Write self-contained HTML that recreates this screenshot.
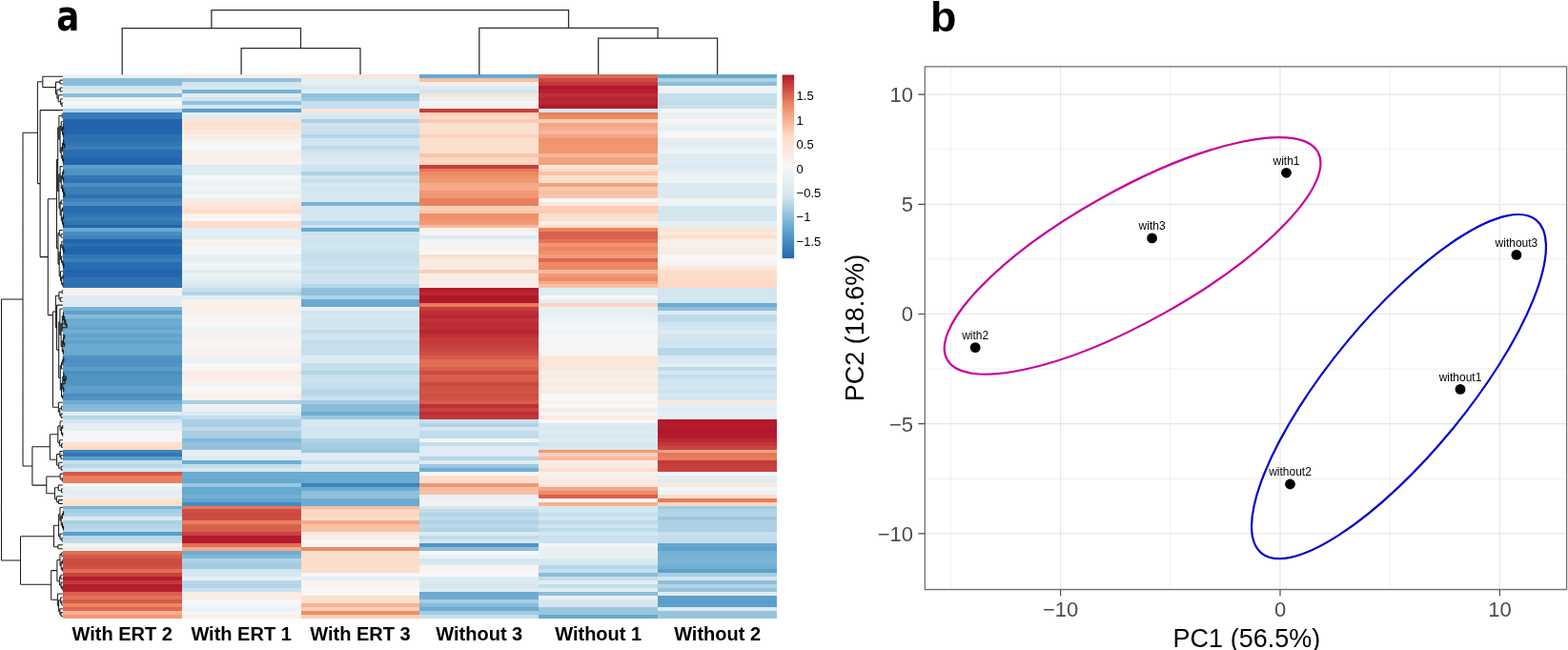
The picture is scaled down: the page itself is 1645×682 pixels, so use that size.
<!DOCTYPE html>
<html><head><meta charset="utf-8"><title>Heatmap and PCA</title>
<style>html,body{margin:0;padding:0;background:#fff;}body{width:1645px;height:682px;overflow:hidden;}svg{display:block;}</style>
</head><body>
<svg width="1645" height="682" viewBox="0 0 1645 682">
<g shape-rendering="crispEdges">
<rect x="65.80" y="78.20" width="125.47" height="4.53" fill="#eaf1f5"/>
<rect x="65.80" y="82.13" width="125.47" height="8.47" fill="#8abdda"/>
<rect x="65.80" y="90.00" width="125.47" height="4.53" fill="#d1e5f0"/>
<rect x="65.80" y="93.93" width="125.47" height="4.53" fill="#deebf2"/>
<rect x="65.80" y="97.87" width="125.47" height="4.53" fill="#8abdda"/>
<rect x="65.80" y="101.80" width="125.47" height="4.53" fill="#eaf1f5"/>
<rect x="65.80" y="105.73" width="125.47" height="4.53" fill="#f7f7f7"/>
<rect x="65.80" y="109.66" width="125.47" height="4.53" fill="#eaf1f5"/>
<rect x="65.80" y="113.60" width="125.47" height="4.53" fill="#aed1e5"/>
<rect x="65.80" y="117.53" width="125.47" height="8.47" fill="#387cb8"/>
<rect x="65.80" y="125.40" width="125.47" height="16.33" fill="#2166ac"/>
<rect x="65.80" y="141.13" width="125.47" height="8.47" fill="#2d71b2"/>
<rect x="65.80" y="149.00" width="125.47" height="4.53" fill="#3176b4"/>
<rect x="65.80" y="152.93" width="125.47" height="4.53" fill="#3b7fb9"/>
<rect x="65.80" y="156.86" width="125.47" height="8.47" fill="#286db0"/>
<rect x="65.80" y="164.73" width="125.47" height="8.47" fill="#2166ac"/>
<rect x="65.80" y="172.59" width="125.47" height="4.53" fill="#5ea0ca"/>
<rect x="65.80" y="176.53" width="125.47" height="8.47" fill="#5093c3"/>
<rect x="65.80" y="184.39" width="125.47" height="4.53" fill="#3478b5"/>
<rect x="65.80" y="188.33" width="125.47" height="4.53" fill="#2f73b3"/>
<rect x="65.80" y="192.26" width="125.47" height="4.53" fill="#4b8ec1"/>
<rect x="65.80" y="196.19" width="125.47" height="8.47" fill="#3b7fb9"/>
<rect x="65.80" y="204.06" width="125.47" height="4.53" fill="#2d71b2"/>
<rect x="65.80" y="207.99" width="125.47" height="4.53" fill="#3f83bb"/>
<rect x="65.80" y="211.93" width="125.47" height="4.53" fill="#4b8ec1"/>
<rect x="65.80" y="215.86" width="125.47" height="8.47" fill="#286db0"/>
<rect x="65.80" y="223.72" width="125.47" height="4.53" fill="#3176b4"/>
<rect x="65.80" y="227.66" width="125.47" height="4.53" fill="#387cb8"/>
<rect x="65.80" y="231.59" width="125.47" height="4.53" fill="#3176b4"/>
<rect x="65.80" y="235.52" width="125.47" height="4.53" fill="#2166ac"/>
<rect x="65.80" y="239.46" width="125.47" height="4.53" fill="#67a9cf"/>
<rect x="65.80" y="243.39" width="125.47" height="4.53" fill="#4b8ec1"/>
<rect x="65.80" y="247.32" width="125.47" height="4.53" fill="#3f83bb"/>
<rect x="65.80" y="251.26" width="125.47" height="4.53" fill="#2166ac"/>
<rect x="65.80" y="255.19" width="125.47" height="4.53" fill="#2a6fb1"/>
<rect x="65.80" y="259.12" width="125.47" height="8.47" fill="#2166ac"/>
<rect x="65.80" y="266.99" width="125.47" height="4.53" fill="#3176b4"/>
<rect x="65.80" y="270.92" width="125.47" height="4.53" fill="#3b7fb9"/>
<rect x="65.80" y="274.86" width="125.47" height="8.47" fill="#286db0"/>
<rect x="65.80" y="282.72" width="125.47" height="4.53" fill="#2166ac"/>
<rect x="65.80" y="286.65" width="125.47" height="4.53" fill="#2368ad"/>
<rect x="65.80" y="290.59" width="125.47" height="12.40" fill="#2d71b2"/>
<rect x="65.80" y="302.39" width="125.47" height="4.53" fill="#f8f0ec"/>
<rect x="65.80" y="306.32" width="125.47" height="4.53" fill="#f8f2ef"/>
<rect x="65.80" y="310.25" width="125.47" height="4.53" fill="#deebf2"/>
<rect x="65.80" y="314.19" width="125.47" height="4.53" fill="#dfecf3"/>
<rect x="65.80" y="318.12" width="125.47" height="4.53" fill="#deebf2"/>
<rect x="65.80" y="322.05" width="125.47" height="4.53" fill="#79b3d4"/>
<rect x="65.80" y="325.99" width="125.47" height="4.53" fill="#5ea0ca"/>
<rect x="65.80" y="329.92" width="125.47" height="4.53" fill="#87bbd9"/>
<rect x="65.80" y="333.85" width="125.47" height="4.53" fill="#6babd0"/>
<rect x="65.80" y="337.78" width="125.47" height="4.53" fill="#6eadd1"/>
<rect x="65.80" y="341.72" width="125.47" height="4.53" fill="#62a5cd"/>
<rect x="65.80" y="345.65" width="125.47" height="4.53" fill="#72afd2"/>
<rect x="65.80" y="349.58" width="125.47" height="4.53" fill="#60a2cc"/>
<rect x="65.80" y="353.52" width="125.47" height="4.53" fill="#6babd0"/>
<rect x="65.80" y="357.45" width="125.47" height="4.53" fill="#60a2cc"/>
<rect x="65.80" y="361.38" width="125.47" height="8.47" fill="#6babd0"/>
<rect x="65.80" y="369.25" width="125.47" height="4.53" fill="#67a9cf"/>
<rect x="65.80" y="373.18" width="125.47" height="4.53" fill="#5093c3"/>
<rect x="65.80" y="377.12" width="125.47" height="4.53" fill="#4b8ec1"/>
<rect x="65.80" y="381.05" width="125.47" height="4.53" fill="#5093c3"/>
<rect x="65.80" y="384.98" width="125.47" height="4.53" fill="#5b9ec9"/>
<rect x="65.80" y="388.92" width="125.47" height="4.53" fill="#4b8ec1"/>
<rect x="65.80" y="392.85" width="125.47" height="4.53" fill="#5295c4"/>
<rect x="65.80" y="396.78" width="125.47" height="4.53" fill="#5093c3"/>
<rect x="65.80" y="400.71" width="125.47" height="4.53" fill="#5295c4"/>
<rect x="65.80" y="404.65" width="125.47" height="4.53" fill="#5ea0ca"/>
<rect x="65.80" y="408.58" width="125.47" height="4.53" fill="#5b9ec9"/>
<rect x="65.80" y="412.51" width="125.47" height="4.53" fill="#4b8ec1"/>
<rect x="65.80" y="416.45" width="125.47" height="4.53" fill="#5093c3"/>
<rect x="65.80" y="420.38" width="125.47" height="4.53" fill="#6eadd1"/>
<rect x="65.80" y="424.31" width="125.47" height="4.53" fill="#83b9d8"/>
<rect x="65.80" y="428.25" width="125.47" height="4.53" fill="#8abdda"/>
<rect x="65.80" y="432.18" width="125.47" height="4.53" fill="#e3edf3"/>
<rect x="65.80" y="436.11" width="125.47" height="4.53" fill="#b5d5e7"/>
<rect x="65.80" y="440.05" width="125.47" height="4.53" fill="#d5e7f1"/>
<rect x="65.80" y="443.98" width="125.47" height="8.47" fill="#e5eff4"/>
<rect x="65.80" y="451.84" width="125.47" height="4.53" fill="#f4f6f7"/>
<rect x="65.80" y="455.78" width="125.47" height="4.53" fill="#f6f6f7"/>
<rect x="65.80" y="459.71" width="125.47" height="4.53" fill="#f3f5f6"/>
<rect x="65.80" y="463.64" width="125.47" height="4.53" fill="#fce0cf"/>
<rect x="65.80" y="467.58" width="125.47" height="4.53" fill="#fddcc9"/>
<rect x="65.80" y="471.51" width="125.47" height="4.53" fill="#3f83bb"/>
<rect x="65.80" y="475.44" width="125.47" height="4.53" fill="#3478b5"/>
<rect x="65.80" y="479.38" width="125.47" height="4.53" fill="#5b9ec9"/>
<rect x="65.80" y="483.31" width="125.47" height="4.53" fill="#c6dfed"/>
<rect x="65.80" y="487.24" width="125.47" height="4.53" fill="#b8d7e8"/>
<rect x="65.80" y="491.18" width="125.47" height="4.53" fill="#d4e6f0"/>
<rect x="65.80" y="495.11" width="125.47" height="4.53" fill="#d5594a"/>
<rect x="65.80" y="499.04" width="125.47" height="8.47" fill="#e97f5c"/>
<rect x="65.80" y="506.91" width="125.47" height="4.53" fill="#f6f6f7"/>
<rect x="65.80" y="510.84" width="125.47" height="4.53" fill="#e9f0f4"/>
<rect x="65.80" y="514.77" width="125.47" height="4.53" fill="#e3edf3"/>
<rect x="65.80" y="518.71" width="125.47" height="4.53" fill="#e7eff4"/>
<rect x="65.80" y="522.64" width="125.47" height="4.53" fill="#fce2d2"/>
<rect x="65.80" y="526.57" width="125.47" height="4.53" fill="#fcdfcd"/>
<rect x="65.80" y="530.51" width="125.47" height="4.53" fill="#79b3d4"/>
<rect x="65.80" y="534.44" width="125.47" height="4.53" fill="#a7cde3"/>
<rect x="65.80" y="538.37" width="125.47" height="4.53" fill="#b1d3e6"/>
<rect x="65.80" y="542.31" width="125.47" height="4.53" fill="#dbeaf2"/>
<rect x="65.80" y="546.24" width="125.47" height="4.53" fill="#aacfe4"/>
<rect x="65.80" y="550.17" width="125.47" height="4.53" fill="#b5d5e7"/>
<rect x="65.80" y="554.11" width="125.47" height="4.53" fill="#bcd9e9"/>
<rect x="65.80" y="558.04" width="125.47" height="4.53" fill="#5b9ec9"/>
<rect x="65.80" y="561.97" width="125.47" height="4.53" fill="#b8d7e8"/>
<rect x="65.80" y="565.90" width="125.47" height="4.53" fill="#bfdbea"/>
<rect x="65.80" y="569.84" width="125.47" height="4.53" fill="#f8f2ef"/>
<rect x="65.80" y="573.77" width="125.47" height="4.53" fill="#e4eef4"/>
<rect x="65.80" y="577.70" width="125.47" height="4.53" fill="#e16f55"/>
<rect x="65.80" y="581.64" width="125.47" height="4.53" fill="#d5594a"/>
<rect x="65.80" y="585.57" width="125.47" height="4.53" fill="#ce4d45"/>
<rect x="65.80" y="589.50" width="125.47" height="4.53" fill="#cc4943"/>
<rect x="65.80" y="593.44" width="125.47" height="4.53" fill="#d05146"/>
<rect x="65.80" y="597.37" width="125.47" height="4.53" fill="#e16f55"/>
<rect x="65.80" y="601.30" width="125.47" height="4.53" fill="#c8423f"/>
<rect x="65.80" y="605.24" width="125.47" height="4.53" fill="#b41c2d"/>
<rect x="65.80" y="609.17" width="125.47" height="4.53" fill="#c43a3b"/>
<rect x="65.80" y="613.10" width="125.47" height="4.53" fill="#b41c2d"/>
<rect x="65.80" y="617.04" width="125.47" height="4.53" fill="#b6202f"/>
<rect x="65.80" y="620.97" width="125.47" height="4.53" fill="#d9604e"/>
<rect x="65.80" y="624.90" width="125.47" height="4.53" fill="#e37357"/>
<rect x="65.80" y="628.83" width="125.47" height="4.53" fill="#d5594a"/>
<rect x="65.80" y="632.77" width="125.47" height="4.53" fill="#ed8660"/>
<rect x="65.80" y="636.70" width="125.47" height="4.53" fill="#dd6852"/>
<rect x="65.80" y="640.63" width="125.47" height="4.53" fill="#f6b091"/>
<rect x="65.80" y="644.57" width="125.47" height="3.93" fill="#f29a76"/>
<rect x="190.67" y="78.20" width="125.47" height="4.53" fill="#f9eee7"/>
<rect x="190.67" y="82.13" width="125.47" height="4.53" fill="#91c1dc"/>
<rect x="190.67" y="86.07" width="125.47" height="4.53" fill="#d1e5f0"/>
<rect x="190.67" y="90.00" width="125.47" height="4.53" fill="#d7e8f1"/>
<rect x="190.67" y="93.93" width="125.47" height="4.53" fill="#79b3d4"/>
<rect x="190.67" y="97.87" width="125.47" height="4.53" fill="#deebf2"/>
<rect x="190.67" y="101.80" width="125.47" height="4.53" fill="#d1e5f0"/>
<rect x="190.67" y="105.73" width="125.47" height="4.53" fill="#91c1dc"/>
<rect x="190.67" y="109.66" width="125.47" height="4.53" fill="#d1e5f0"/>
<rect x="190.67" y="113.60" width="125.47" height="4.53" fill="#5b9ec9"/>
<rect x="190.67" y="117.53" width="125.47" height="4.53" fill="#e4eef4"/>
<rect x="190.67" y="121.46" width="125.47" height="4.53" fill="#deebf2"/>
<rect x="190.67" y="125.40" width="125.47" height="4.53" fill="#fbe4d7"/>
<rect x="190.67" y="129.33" width="125.47" height="4.53" fill="#fce0cf"/>
<rect x="190.67" y="133.26" width="125.47" height="4.53" fill="#fbe4d7"/>
<rect x="190.67" y="137.20" width="125.47" height="4.53" fill="#fae9df"/>
<rect x="190.67" y="141.13" width="125.47" height="4.53" fill="#f9eee7"/>
<rect x="190.67" y="145.06" width="125.47" height="4.53" fill="#f8f0ec"/>
<rect x="190.67" y="149.00" width="125.47" height="8.47" fill="#f7f7f7"/>
<rect x="190.67" y="156.86" width="125.47" height="4.53" fill="#f8f0ec"/>
<rect x="190.67" y="160.80" width="125.47" height="4.53" fill="#f9eee7"/>
<rect x="190.67" y="164.73" width="125.47" height="4.53" fill="#f8f0ec"/>
<rect x="190.67" y="168.66" width="125.47" height="4.53" fill="#f8f2ef"/>
<rect x="190.67" y="172.59" width="125.47" height="12.40" fill="#deebf2"/>
<rect x="190.67" y="184.39" width="125.47" height="4.53" fill="#f7f7f7"/>
<rect x="190.67" y="188.33" width="125.47" height="4.53" fill="#f1f4f6"/>
<rect x="190.67" y="192.26" width="125.47" height="4.53" fill="#eaf1f5"/>
<rect x="190.67" y="196.19" width="125.47" height="4.53" fill="#f1f4f6"/>
<rect x="190.67" y="200.13" width="125.47" height="4.53" fill="#e8f0f4"/>
<rect x="190.67" y="204.06" width="125.47" height="4.53" fill="#f3f5f6"/>
<rect x="190.67" y="207.99" width="125.47" height="4.53" fill="#faebe2"/>
<rect x="190.67" y="211.93" width="125.47" height="4.53" fill="#fae9df"/>
<rect x="190.67" y="215.86" width="125.47" height="4.53" fill="#fbe4d7"/>
<rect x="190.67" y="219.79" width="125.47" height="4.53" fill="#fddbc7"/>
<rect x="190.67" y="223.72" width="125.47" height="4.53" fill="#f8f1ed"/>
<rect x="190.67" y="227.66" width="125.47" height="4.53" fill="#f7f7f7"/>
<rect x="190.67" y="231.59" width="125.47" height="8.47" fill="#fcdecc"/>
<rect x="190.67" y="239.46" width="125.47" height="4.53" fill="#e3edf3"/>
<rect x="190.67" y="243.39" width="125.47" height="4.53" fill="#e5eff4"/>
<rect x="190.67" y="247.32" width="125.47" height="4.53" fill="#e1edf3"/>
<rect x="190.67" y="251.26" width="125.47" height="4.53" fill="#f8f1ed"/>
<rect x="190.67" y="255.19" width="125.47" height="4.53" fill="#f8f0ec"/>
<rect x="190.67" y="259.12" width="125.47" height="8.47" fill="#f4f6f7"/>
<rect x="190.67" y="266.99" width="125.47" height="4.53" fill="#e9f0f4"/>
<rect x="190.67" y="270.92" width="125.47" height="4.53" fill="#e5eff4"/>
<rect x="190.67" y="274.86" width="125.47" height="4.53" fill="#f2f5f6"/>
<rect x="190.67" y="278.79" width="125.47" height="4.53" fill="#f1f4f6"/>
<rect x="190.67" y="282.72" width="125.47" height="4.53" fill="#dfecf3"/>
<rect x="190.67" y="286.65" width="125.47" height="4.53" fill="#edf2f5"/>
<rect x="190.67" y="290.59" width="125.47" height="4.53" fill="#e7eff4"/>
<rect x="190.67" y="294.52" width="125.47" height="4.53" fill="#deebf2"/>
<rect x="190.67" y="298.45" width="125.47" height="4.53" fill="#d7e8f1"/>
<rect x="190.67" y="302.39" width="125.47" height="4.53" fill="#c6dfed"/>
<rect x="190.67" y="306.32" width="125.47" height="4.53" fill="#b1d3e6"/>
<rect x="190.67" y="310.25" width="125.47" height="4.53" fill="#e1edf3"/>
<rect x="190.67" y="314.19" width="125.47" height="4.53" fill="#f8f1ed"/>
<rect x="190.67" y="318.12" width="125.47" height="4.53" fill="#f9f0ea"/>
<rect x="190.67" y="322.05" width="125.47" height="4.53" fill="#f9efe9"/>
<rect x="190.67" y="325.99" width="125.47" height="4.53" fill="#f8f0ec"/>
<rect x="190.67" y="329.92" width="125.47" height="4.53" fill="#f8f2ef"/>
<rect x="190.67" y="333.85" width="125.47" height="4.53" fill="#f7f6f5"/>
<rect x="190.67" y="337.78" width="125.47" height="4.53" fill="#f7f7f7"/>
<rect x="190.67" y="341.72" width="125.47" height="4.53" fill="#f2f5f6"/>
<rect x="190.67" y="345.65" width="125.47" height="4.53" fill="#eff3f6"/>
<rect x="190.67" y="349.58" width="125.47" height="4.53" fill="#f8f1ed"/>
<rect x="190.67" y="353.52" width="125.47" height="4.53" fill="#f8f2ef"/>
<rect x="190.67" y="357.45" width="125.47" height="8.47" fill="#f8f4f2"/>
<rect x="190.67" y="365.32" width="125.47" height="4.53" fill="#f9efe9"/>
<rect x="190.67" y="369.25" width="125.47" height="4.53" fill="#f9f0ea"/>
<rect x="190.67" y="373.18" width="125.47" height="4.53" fill="#ecf2f5"/>
<rect x="190.67" y="377.12" width="125.47" height="4.53" fill="#e9f0f4"/>
<rect x="190.67" y="381.05" width="125.47" height="4.53" fill="#f7f7f7"/>
<rect x="190.67" y="384.98" width="125.47" height="4.53" fill="#f7f5f4"/>
<rect x="190.67" y="388.92" width="125.47" height="4.53" fill="#faeae1"/>
<rect x="190.67" y="392.85" width="125.47" height="4.53" fill="#f9eee7"/>
<rect x="190.67" y="396.78" width="125.47" height="4.53" fill="#f9efe9"/>
<rect x="190.67" y="400.71" width="125.47" height="4.53" fill="#f8f1ed"/>
<rect x="190.67" y="404.65" width="125.47" height="4.53" fill="#f7f7f7"/>
<rect x="190.67" y="408.58" width="125.47" height="4.53" fill="#f6f6f7"/>
<rect x="190.67" y="412.51" width="125.47" height="4.53" fill="#f9efe9"/>
<rect x="190.67" y="416.45" width="125.47" height="4.53" fill="#f8f0ec"/>
<rect x="190.67" y="420.38" width="125.47" height="4.53" fill="#a7cde3"/>
<rect x="190.67" y="424.31" width="125.47" height="4.53" fill="#edf2f5"/>
<rect x="190.67" y="428.25" width="125.47" height="4.53" fill="#e8f0f4"/>
<rect x="190.67" y="432.18" width="125.47" height="4.53" fill="#dbeaf2"/>
<rect x="190.67" y="436.11" width="125.47" height="4.53" fill="#c3ddec"/>
<rect x="190.67" y="440.05" width="125.47" height="8.47" fill="#aacfe4"/>
<rect x="190.67" y="447.91" width="125.47" height="4.53" fill="#bfdbea"/>
<rect x="190.67" y="451.84" width="125.47" height="4.53" fill="#aacfe4"/>
<rect x="190.67" y="455.78" width="125.47" height="4.53" fill="#a7cde3"/>
<rect x="190.67" y="459.71" width="125.47" height="4.53" fill="#83b9d8"/>
<rect x="190.67" y="463.64" width="125.47" height="4.53" fill="#95c3dd"/>
<rect x="190.67" y="467.58" width="125.47" height="4.53" fill="#91c1dc"/>
<rect x="190.67" y="471.51" width="125.47" height="4.53" fill="#e5eff4"/>
<rect x="190.67" y="475.44" width="125.47" height="4.53" fill="#e4eef4"/>
<rect x="190.67" y="479.38" width="125.47" height="4.53" fill="#dbeaf2"/>
<rect x="190.67" y="483.31" width="125.47" height="4.53" fill="#6eadd1"/>
<rect x="190.67" y="487.24" width="125.47" height="4.53" fill="#c3ddec"/>
<rect x="190.67" y="491.18" width="125.47" height="4.53" fill="#d5e7f1"/>
<rect x="190.67" y="495.11" width="125.47" height="8.47" fill="#6babd0"/>
<rect x="190.67" y="502.98" width="125.47" height="4.53" fill="#67a9cf"/>
<rect x="190.67" y="506.91" width="125.47" height="4.53" fill="#9cc7e0"/>
<rect x="190.67" y="510.84" width="125.47" height="8.47" fill="#67a9cf"/>
<rect x="190.67" y="518.71" width="125.47" height="4.53" fill="#72afd2"/>
<rect x="190.67" y="522.64" width="125.47" height="4.53" fill="#62a5cd"/>
<rect x="190.67" y="526.57" width="125.47" height="4.53" fill="#468abf"/>
<rect x="190.67" y="530.51" width="125.47" height="4.53" fill="#e57759"/>
<rect x="190.67" y="534.44" width="125.47" height="4.53" fill="#ce4d45"/>
<rect x="190.67" y="538.37" width="125.47" height="4.53" fill="#cc4943"/>
<rect x="190.67" y="542.31" width="125.47" height="4.53" fill="#ce4d45"/>
<rect x="190.67" y="546.24" width="125.47" height="4.53" fill="#e97f5c"/>
<rect x="190.67" y="550.17" width="125.47" height="8.47" fill="#d9604e"/>
<rect x="190.67" y="558.04" width="125.47" height="4.53" fill="#c8423f"/>
<rect x="190.67" y="561.97" width="125.47" height="8.47" fill="#b41c2d"/>
<rect x="190.67" y="569.84" width="125.47" height="4.53" fill="#e16f55"/>
<rect x="190.67" y="573.77" width="125.47" height="4.53" fill="#f5aa8a"/>
<rect x="190.67" y="577.70" width="125.47" height="4.53" fill="#6eadd1"/>
<rect x="190.67" y="581.64" width="125.47" height="4.53" fill="#80b7d7"/>
<rect x="190.67" y="585.57" width="125.47" height="4.53" fill="#b1d3e6"/>
<rect x="190.67" y="589.50" width="125.47" height="8.47" fill="#a3cbe2"/>
<rect x="190.67" y="597.37" width="125.47" height="4.53" fill="#d1e5f0"/>
<rect x="190.67" y="601.30" width="125.47" height="4.53" fill="#d5e7f1"/>
<rect x="190.67" y="605.24" width="125.47" height="4.53" fill="#e9f0f4"/>
<rect x="190.67" y="609.17" width="125.47" height="4.53" fill="#b8d7e8"/>
<rect x="190.67" y="613.10" width="125.47" height="4.53" fill="#b5d5e7"/>
<rect x="190.67" y="617.04" width="125.47" height="4.53" fill="#cae1ee"/>
<rect x="190.67" y="620.97" width="125.47" height="4.53" fill="#f9ece4"/>
<rect x="190.67" y="624.90" width="125.47" height="4.53" fill="#f9ede5"/>
<rect x="190.67" y="628.83" width="125.47" height="4.53" fill="#f7f7f7"/>
<rect x="190.67" y="632.77" width="125.47" height="4.53" fill="#f3f5f6"/>
<rect x="190.67" y="636.70" width="125.47" height="4.53" fill="#eaf1f5"/>
<rect x="190.67" y="640.63" width="125.47" height="4.53" fill="#f4f6f7"/>
<rect x="190.67" y="644.57" width="125.47" height="3.93" fill="#f9f0ea"/>
<rect x="315.53" y="78.20" width="125.47" height="4.53" fill="#fbe4d7"/>
<rect x="315.53" y="82.13" width="125.47" height="8.47" fill="#e4eef4"/>
<rect x="315.53" y="90.00" width="125.47" height="4.53" fill="#d4e6f0"/>
<rect x="315.53" y="93.93" width="125.47" height="4.53" fill="#e0ecf3"/>
<rect x="315.53" y="97.87" width="125.47" height="4.53" fill="#91c1dc"/>
<rect x="315.53" y="101.80" width="125.47" height="4.53" fill="#9cc7e0"/>
<rect x="315.53" y="105.73" width="125.47" height="8.47" fill="#c6dfed"/>
<rect x="315.53" y="113.60" width="125.47" height="4.53" fill="#fbe6da"/>
<rect x="315.53" y="117.53" width="125.47" height="4.53" fill="#deebf2"/>
<rect x="315.53" y="121.46" width="125.47" height="4.53" fill="#d7e8f1"/>
<rect x="315.53" y="125.40" width="125.47" height="4.53" fill="#aed1e5"/>
<rect x="315.53" y="129.33" width="125.47" height="4.53" fill="#d1e5f0"/>
<rect x="315.53" y="133.26" width="125.47" height="8.47" fill="#cae1ee"/>
<rect x="315.53" y="141.13" width="125.47" height="4.53" fill="#b5d5e7"/>
<rect x="315.53" y="145.06" width="125.47" height="8.47" fill="#d1e5f0"/>
<rect x="315.53" y="152.93" width="125.47" height="4.53" fill="#bfdbea"/>
<rect x="315.53" y="156.86" width="125.47" height="4.53" fill="#d1e5f0"/>
<rect x="315.53" y="160.80" width="125.47" height="4.53" fill="#d7e8f1"/>
<rect x="315.53" y="164.73" width="125.47" height="4.53" fill="#dae9f2"/>
<rect x="315.53" y="168.66" width="125.47" height="4.53" fill="#deebf2"/>
<rect x="315.53" y="172.59" width="125.47" height="8.47" fill="#d1e5f0"/>
<rect x="315.53" y="180.46" width="125.47" height="4.53" fill="#aed1e5"/>
<rect x="315.53" y="184.39" width="125.47" height="4.53" fill="#d1e5f0"/>
<rect x="315.53" y="188.33" width="125.47" height="4.53" fill="#c6dfed"/>
<rect x="315.53" y="192.26" width="125.47" height="4.53" fill="#d7e8f1"/>
<rect x="315.53" y="196.19" width="125.47" height="4.53" fill="#d1e5f0"/>
<rect x="315.53" y="200.13" width="125.47" height="4.53" fill="#d7e8f1"/>
<rect x="315.53" y="204.06" width="125.47" height="4.53" fill="#dae9f2"/>
<rect x="315.53" y="207.99" width="125.47" height="4.53" fill="#d7e8f1"/>
<rect x="315.53" y="211.93" width="125.47" height="4.53" fill="#79b3d4"/>
<rect x="315.53" y="215.86" width="125.47" height="4.53" fill="#d4e6f0"/>
<rect x="315.53" y="219.79" width="125.47" height="4.53" fill="#d1e5f0"/>
<rect x="315.53" y="223.72" width="125.47" height="8.47" fill="#d4e6f0"/>
<rect x="315.53" y="231.59" width="125.47" height="4.53" fill="#b1d3e6"/>
<rect x="315.53" y="235.52" width="125.47" height="4.53" fill="#d2e6f0"/>
<rect x="315.53" y="239.46" width="125.47" height="4.53" fill="#6babd0"/>
<rect x="315.53" y="243.39" width="125.47" height="4.53" fill="#cde3ef"/>
<rect x="315.53" y="247.32" width="125.47" height="4.53" fill="#d5e7f1"/>
<rect x="315.53" y="251.26" width="125.47" height="4.53" fill="#cde3ef"/>
<rect x="315.53" y="255.19" width="125.47" height="4.53" fill="#d1e5f0"/>
<rect x="315.53" y="259.12" width="125.47" height="4.53" fill="#d2e6f0"/>
<rect x="315.53" y="263.06" width="125.47" height="4.53" fill="#cae1ee"/>
<rect x="315.53" y="266.99" width="125.47" height="8.47" fill="#c6dfed"/>
<rect x="315.53" y="274.86" width="125.47" height="4.53" fill="#cae1ee"/>
<rect x="315.53" y="278.79" width="125.47" height="4.53" fill="#d1e5f0"/>
<rect x="315.53" y="282.72" width="125.47" height="4.53" fill="#c3ddec"/>
<rect x="315.53" y="286.65" width="125.47" height="12.40" fill="#cde3ef"/>
<rect x="315.53" y="298.45" width="125.47" height="4.53" fill="#b5d5e7"/>
<rect x="315.53" y="302.39" width="125.47" height="4.53" fill="#91c1dc"/>
<rect x="315.53" y="306.32" width="125.47" height="4.53" fill="#8ebfdb"/>
<rect x="315.53" y="310.25" width="125.47" height="4.53" fill="#b1d3e6"/>
<rect x="315.53" y="314.19" width="125.47" height="4.53" fill="#6babd0"/>
<rect x="315.53" y="318.12" width="125.47" height="4.53" fill="#67a9cf"/>
<rect x="315.53" y="322.05" width="125.47" height="4.53" fill="#e9f0f4"/>
<rect x="315.53" y="325.99" width="125.47" height="4.53" fill="#d1e5f0"/>
<rect x="315.53" y="329.92" width="125.47" height="4.53" fill="#d5e7f1"/>
<rect x="315.53" y="333.85" width="125.47" height="8.47" fill="#d1e5f0"/>
<rect x="315.53" y="341.72" width="125.47" height="4.53" fill="#d4e6f0"/>
<rect x="315.53" y="345.65" width="125.47" height="4.53" fill="#c3ddec"/>
<rect x="315.53" y="349.58" width="125.47" height="8.47" fill="#d1e5f0"/>
<rect x="315.53" y="357.45" width="125.47" height="4.53" fill="#c3ddec"/>
<rect x="315.53" y="361.38" width="125.47" height="12.40" fill="#c6dfed"/>
<rect x="315.53" y="373.18" width="125.47" height="8.47" fill="#deebf2"/>
<rect x="315.53" y="381.05" width="125.47" height="8.47" fill="#c6dfed"/>
<rect x="315.53" y="388.92" width="125.47" height="4.53" fill="#b5d5e7"/>
<rect x="315.53" y="392.85" width="125.47" height="4.53" fill="#cae1ee"/>
<rect x="315.53" y="396.78" width="125.47" height="4.53" fill="#cde3ef"/>
<rect x="315.53" y="400.71" width="125.47" height="8.47" fill="#c6dfed"/>
<rect x="315.53" y="408.58" width="125.47" height="4.53" fill="#b5d5e7"/>
<rect x="315.53" y="412.51" width="125.47" height="4.53" fill="#bfdbea"/>
<rect x="315.53" y="416.45" width="125.47" height="4.53" fill="#cae1ee"/>
<rect x="315.53" y="420.38" width="125.47" height="4.53" fill="#a3cbe2"/>
<rect x="315.53" y="424.31" width="125.47" height="8.47" fill="#8abdda"/>
<rect x="315.53" y="432.18" width="125.47" height="4.53" fill="#6eadd1"/>
<rect x="315.53" y="436.11" width="125.47" height="4.53" fill="#9cc7e0"/>
<rect x="315.53" y="440.05" width="125.47" height="4.53" fill="#d5e7f1"/>
<rect x="315.53" y="443.98" width="125.47" height="4.53" fill="#d6e7f1"/>
<rect x="315.53" y="447.91" width="125.47" height="4.53" fill="#d1e5f0"/>
<rect x="315.53" y="451.84" width="125.47" height="4.53" fill="#d4e6f0"/>
<rect x="315.53" y="455.78" width="125.47" height="4.53" fill="#d5e7f1"/>
<rect x="315.53" y="459.71" width="125.47" height="4.53" fill="#b1d3e6"/>
<rect x="315.53" y="463.64" width="125.47" height="4.53" fill="#a7cde3"/>
<rect x="315.53" y="467.58" width="125.47" height="4.53" fill="#a3cbe2"/>
<rect x="315.53" y="471.51" width="125.47" height="4.53" fill="#9cc7e0"/>
<rect x="315.53" y="475.44" width="125.47" height="4.53" fill="#deebf2"/>
<rect x="315.53" y="479.38" width="125.47" height="4.53" fill="#dfecf3"/>
<rect x="315.53" y="483.31" width="125.47" height="4.53" fill="#c6dfed"/>
<rect x="315.53" y="487.24" width="125.47" height="4.53" fill="#e3edf3"/>
<rect x="315.53" y="491.18" width="125.47" height="4.53" fill="#dfecf3"/>
<rect x="315.53" y="495.11" width="125.47" height="12.40" fill="#6babd0"/>
<rect x="315.53" y="506.91" width="125.47" height="4.53" fill="#3f83bb"/>
<rect x="315.53" y="510.84" width="125.47" height="4.53" fill="#6babd0"/>
<rect x="315.53" y="514.77" width="125.47" height="4.53" fill="#8ebfdb"/>
<rect x="315.53" y="518.71" width="125.47" height="4.53" fill="#91c1dc"/>
<rect x="315.53" y="522.64" width="125.47" height="8.47" fill="#6babd0"/>
<rect x="315.53" y="530.51" width="125.47" height="4.53" fill="#f8bda2"/>
<rect x="315.53" y="534.44" width="125.47" height="4.53" fill="#fdd8c4"/>
<rect x="315.53" y="538.37" width="125.47" height="4.53" fill="#fcd6c0"/>
<rect x="315.53" y="542.31" width="125.47" height="4.53" fill="#fddcc9"/>
<rect x="315.53" y="546.24" width="125.47" height="4.53" fill="#f5aa8a"/>
<rect x="315.53" y="550.17" width="125.47" height="4.53" fill="#f8c0a5"/>
<rect x="315.53" y="554.11" width="125.47" height="4.53" fill="#f9c3a9"/>
<rect x="315.53" y="558.04" width="125.47" height="4.53" fill="#fae9df"/>
<rect x="315.53" y="561.97" width="125.47" height="4.53" fill="#f9eee7"/>
<rect x="315.53" y="565.90" width="125.47" height="4.53" fill="#f7f6f5"/>
<rect x="315.53" y="569.84" width="125.47" height="4.53" fill="#f7f5f4"/>
<rect x="315.53" y="573.77" width="125.47" height="4.53" fill="#ef8d65"/>
<rect x="315.53" y="577.70" width="125.47" height="4.53" fill="#fdddca"/>
<rect x="315.53" y="581.64" width="125.47" height="8.47" fill="#fcdecc"/>
<rect x="315.53" y="589.50" width="125.47" height="4.53" fill="#fdddca"/>
<rect x="315.53" y="593.44" width="125.47" height="4.53" fill="#fcdecc"/>
<rect x="315.53" y="597.37" width="125.47" height="4.53" fill="#fdddca"/>
<rect x="315.53" y="601.30" width="125.47" height="4.53" fill="#f7f7f7"/>
<rect x="315.53" y="605.24" width="125.47" height="4.53" fill="#e4eef4"/>
<rect x="315.53" y="609.17" width="125.47" height="4.53" fill="#f8f4f2"/>
<rect x="315.53" y="613.10" width="125.47" height="4.53" fill="#f7f5f4"/>
<rect x="315.53" y="617.04" width="125.47" height="4.53" fill="#f7f7f7"/>
<rect x="315.53" y="620.97" width="125.47" height="4.53" fill="#f7f6f5"/>
<rect x="315.53" y="624.90" width="125.47" height="4.53" fill="#fcdecc"/>
<rect x="315.53" y="628.83" width="125.47" height="4.53" fill="#fce0cf"/>
<rect x="315.53" y="632.77" width="125.47" height="4.53" fill="#f6b294"/>
<rect x="315.53" y="636.70" width="125.47" height="4.53" fill="#fbd0ba"/>
<rect x="315.53" y="640.63" width="125.47" height="4.53" fill="#ef8d65"/>
<rect x="315.53" y="644.57" width="125.47" height="3.93" fill="#fbceb6"/>
<rect x="440.40" y="78.20" width="125.47" height="4.53" fill="#67a9cf"/>
<rect x="440.40" y="82.13" width="125.47" height="4.53" fill="#f8c0a5"/>
<rect x="440.40" y="86.07" width="125.47" height="4.53" fill="#f9eee7"/>
<rect x="440.40" y="90.00" width="125.47" height="4.53" fill="#deebf2"/>
<rect x="440.40" y="93.93" width="125.47" height="4.53" fill="#d1e5f0"/>
<rect x="440.40" y="97.87" width="125.47" height="4.53" fill="#fbe4d7"/>
<rect x="440.40" y="101.80" width="125.47" height="4.53" fill="#eaf1f5"/>
<rect x="440.40" y="105.73" width="125.47" height="4.53" fill="#f8f2ef"/>
<rect x="440.40" y="109.66" width="125.47" height="4.53" fill="#f1f4f6"/>
<rect x="440.40" y="113.60" width="125.47" height="4.53" fill="#c63e3d"/>
<rect x="440.40" y="117.53" width="125.47" height="4.53" fill="#fbceb6"/>
<rect x="440.40" y="121.46" width="125.47" height="4.53" fill="#fddbc7"/>
<rect x="440.40" y="125.40" width="125.47" height="4.53" fill="#fac8af"/>
<rect x="440.40" y="129.33" width="125.47" height="8.47" fill="#fce0cf"/>
<rect x="440.40" y="137.20" width="125.47" height="4.53" fill="#fcdecc"/>
<rect x="440.40" y="141.13" width="125.47" height="4.53" fill="#fcd3bd"/>
<rect x="440.40" y="145.06" width="125.47" height="4.53" fill="#fcdecc"/>
<rect x="440.40" y="149.00" width="125.47" height="4.53" fill="#fcdfcd"/>
<rect x="440.40" y="152.93" width="125.47" height="4.53" fill="#fce0cf"/>
<rect x="440.40" y="156.86" width="125.47" height="4.53" fill="#fcdecc"/>
<rect x="440.40" y="160.80" width="125.47" height="4.53" fill="#f9c5ac"/>
<rect x="440.40" y="164.73" width="125.47" height="8.47" fill="#fcd6c0"/>
<rect x="440.40" y="172.59" width="125.47" height="4.53" fill="#c63e3d"/>
<rect x="440.40" y="176.53" width="125.47" height="4.53" fill="#e57759"/>
<rect x="440.40" y="180.46" width="125.47" height="4.53" fill="#ef8a62"/>
<rect x="440.40" y="184.39" width="125.47" height="4.53" fill="#f0926c"/>
<rect x="440.40" y="188.33" width="125.47" height="4.53" fill="#f19773"/>
<rect x="440.40" y="192.26" width="125.47" height="8.47" fill="#f5aa8a"/>
<rect x="440.40" y="200.13" width="125.47" height="8.47" fill="#f19773"/>
<rect x="440.40" y="207.99" width="125.47" height="4.53" fill="#e97f5c"/>
<rect x="440.40" y="211.93" width="125.47" height="4.53" fill="#eb825e"/>
<rect x="440.40" y="215.86" width="125.47" height="4.53" fill="#fbd0ba"/>
<rect x="440.40" y="219.79" width="125.47" height="4.53" fill="#fac8af"/>
<rect x="440.40" y="223.72" width="125.47" height="4.53" fill="#f08f69"/>
<rect x="440.40" y="227.66" width="125.47" height="4.53" fill="#f1956f"/>
<rect x="440.40" y="231.59" width="125.47" height="4.53" fill="#f29a76"/>
<rect x="440.40" y="235.52" width="125.47" height="4.53" fill="#f7b89b"/>
<rect x="440.40" y="239.46" width="125.47" height="4.53" fill="#f9f0ea"/>
<rect x="440.40" y="243.39" width="125.47" height="4.53" fill="#f2f5f6"/>
<rect x="440.40" y="247.32" width="125.47" height="4.53" fill="#deebf2"/>
<rect x="440.40" y="251.26" width="125.47" height="4.53" fill="#f3f5f6"/>
<rect x="440.40" y="255.19" width="125.47" height="4.53" fill="#f8f2ef"/>
<rect x="440.40" y="259.12" width="125.47" height="4.53" fill="#f8f3f1"/>
<rect x="440.40" y="263.06" width="125.47" height="4.53" fill="#f7f7f7"/>
<rect x="440.40" y="266.99" width="125.47" height="4.53" fill="#fcdecc"/>
<rect x="440.40" y="270.92" width="125.47" height="4.53" fill="#faeae1"/>
<rect x="440.40" y="274.86" width="125.47" height="8.47" fill="#faebe2"/>
<rect x="440.40" y="282.72" width="125.47" height="4.53" fill="#fbceb6"/>
<rect x="440.40" y="286.65" width="125.47" height="4.53" fill="#f9efe9"/>
<rect x="440.40" y="290.59" width="125.47" height="4.53" fill="#faeae1"/>
<rect x="440.40" y="294.52" width="125.47" height="4.53" fill="#f9eee7"/>
<rect x="440.40" y="298.45" width="125.47" height="4.53" fill="#f9ece4"/>
<rect x="440.40" y="302.39" width="125.47" height="4.53" fill="#b41c2d"/>
<rect x="440.40" y="306.32" width="125.47" height="4.53" fill="#ba2732"/>
<rect x="440.40" y="310.25" width="125.47" height="8.47" fill="#b2182b"/>
<rect x="440.40" y="318.12" width="125.47" height="4.53" fill="#e77b5b"/>
<rect x="440.40" y="322.05" width="125.47" height="4.53" fill="#c43a3b"/>
<rect x="440.40" y="325.99" width="125.47" height="4.53" fill="#be2f36"/>
<rect x="440.40" y="329.92" width="125.47" height="4.53" fill="#ba2732"/>
<rect x="440.40" y="333.85" width="125.47" height="4.53" fill="#c03338"/>
<rect x="440.40" y="337.78" width="125.47" height="4.53" fill="#bc2b34"/>
<rect x="440.40" y="341.72" width="125.47" height="4.53" fill="#be2f36"/>
<rect x="440.40" y="345.65" width="125.47" height="4.53" fill="#b82331"/>
<rect x="440.40" y="349.58" width="125.47" height="4.53" fill="#be2f36"/>
<rect x="440.40" y="353.52" width="125.47" height="8.47" fill="#c43a3b"/>
<rect x="440.40" y="361.38" width="125.47" height="4.53" fill="#c63e3d"/>
<rect x="440.40" y="365.32" width="125.47" height="4.53" fill="#ca4641"/>
<rect x="440.40" y="369.25" width="125.47" height="4.53" fill="#ce4d45"/>
<rect x="440.40" y="373.18" width="125.47" height="4.53" fill="#d5594a"/>
<rect x="440.40" y="377.12" width="125.47" height="4.53" fill="#df6c53"/>
<rect x="440.40" y="381.05" width="125.47" height="4.53" fill="#e16f55"/>
<rect x="440.40" y="384.98" width="125.47" height="4.53" fill="#d9604e"/>
<rect x="440.40" y="388.92" width="125.47" height="4.53" fill="#ce4d45"/>
<rect x="440.40" y="392.85" width="125.47" height="4.53" fill="#d9604e"/>
<rect x="440.40" y="396.78" width="125.47" height="4.53" fill="#d75c4c"/>
<rect x="440.40" y="400.71" width="125.47" height="4.53" fill="#cc4943"/>
<rect x="440.40" y="404.65" width="125.47" height="4.53" fill="#d05146"/>
<rect x="440.40" y="408.58" width="125.47" height="4.53" fill="#d35548"/>
<rect x="440.40" y="412.51" width="125.47" height="4.53" fill="#ce4d45"/>
<rect x="440.40" y="416.45" width="125.47" height="4.53" fill="#d05146"/>
<rect x="440.40" y="420.38" width="125.47" height="4.53" fill="#d75c4c"/>
<rect x="440.40" y="424.31" width="125.47" height="4.53" fill="#be2f36"/>
<rect x="440.40" y="428.25" width="125.47" height="4.53" fill="#c8423f"/>
<rect x="440.40" y="432.18" width="125.47" height="4.53" fill="#be2f36"/>
<rect x="440.40" y="436.11" width="125.47" height="4.53" fill="#c2363a"/>
<rect x="440.40" y="440.05" width="125.47" height="4.53" fill="#c6dfed"/>
<rect x="440.40" y="443.98" width="125.47" height="4.53" fill="#b1d3e6"/>
<rect x="440.40" y="447.91" width="125.47" height="4.53" fill="#d6e7f1"/>
<rect x="440.40" y="451.84" width="125.47" height="4.53" fill="#c3ddec"/>
<rect x="440.40" y="455.78" width="125.47" height="4.53" fill="#bfdbea"/>
<rect x="440.40" y="459.71" width="125.47" height="4.53" fill="#f3f5f6"/>
<rect x="440.40" y="463.64" width="125.47" height="4.53" fill="#c3ddec"/>
<rect x="440.40" y="467.58" width="125.47" height="4.53" fill="#deebf2"/>
<rect x="440.40" y="471.51" width="125.47" height="4.53" fill="#dfecf3"/>
<rect x="440.40" y="475.44" width="125.47" height="4.53" fill="#e0ecf3"/>
<rect x="440.40" y="479.38" width="125.47" height="4.53" fill="#b5d5e7"/>
<rect x="440.40" y="483.31" width="125.47" height="4.53" fill="#e1edf3"/>
<rect x="440.40" y="487.24" width="125.47" height="4.53" fill="#9cc7e0"/>
<rect x="440.40" y="491.18" width="125.47" height="4.53" fill="#72afd2"/>
<rect x="440.40" y="495.11" width="125.47" height="4.53" fill="#f7f7f7"/>
<rect x="440.40" y="499.04" width="125.47" height="8.47" fill="#fcdecc"/>
<rect x="440.40" y="506.91" width="125.47" height="4.53" fill="#f19773"/>
<rect x="440.40" y="510.84" width="125.47" height="4.53" fill="#f8bda2"/>
<rect x="440.40" y="514.77" width="125.47" height="4.53" fill="#f8c0a5"/>
<rect x="440.40" y="518.71" width="125.47" height="4.53" fill="#e9f0f4"/>
<rect x="440.40" y="522.64" width="125.47" height="4.53" fill="#edf2f5"/>
<rect x="440.40" y="526.57" width="125.47" height="4.53" fill="#f8f2ef"/>
<rect x="440.40" y="530.51" width="125.47" height="4.53" fill="#d5e7f1"/>
<rect x="440.40" y="534.44" width="125.47" height="4.53" fill="#c3ddec"/>
<rect x="440.40" y="538.37" width="125.47" height="4.53" fill="#b1d3e6"/>
<rect x="440.40" y="542.31" width="125.47" height="4.53" fill="#bfdbea"/>
<rect x="440.40" y="546.24" width="125.47" height="4.53" fill="#b1d3e6"/>
<rect x="440.40" y="550.17" width="125.47" height="4.53" fill="#bcd9e9"/>
<rect x="440.40" y="554.11" width="125.47" height="4.53" fill="#b1d3e6"/>
<rect x="440.40" y="558.04" width="125.47" height="4.53" fill="#dbeaf2"/>
<rect x="440.40" y="561.97" width="125.47" height="4.53" fill="#bfdbea"/>
<rect x="440.40" y="565.90" width="125.47" height="4.53" fill="#d2e6f0"/>
<rect x="440.40" y="569.84" width="125.47" height="4.53" fill="#5093c3"/>
<rect x="440.40" y="573.77" width="125.47" height="4.53" fill="#8abdda"/>
<rect x="440.40" y="577.70" width="125.47" height="4.53" fill="#f7f7f7"/>
<rect x="440.40" y="581.64" width="125.47" height="4.53" fill="#eaf1f5"/>
<rect x="440.40" y="585.57" width="125.47" height="4.53" fill="#d4e6f0"/>
<rect x="440.40" y="589.50" width="125.47" height="4.53" fill="#dae9f2"/>
<rect x="440.40" y="593.44" width="125.47" height="4.53" fill="#f8f4f2"/>
<rect x="440.40" y="597.37" width="125.47" height="4.53" fill="#f8f3f1"/>
<rect x="440.40" y="601.30" width="125.47" height="4.53" fill="#f7f7f7"/>
<rect x="440.40" y="605.24" width="125.47" height="4.53" fill="#deebf2"/>
<rect x="440.40" y="609.17" width="125.47" height="4.53" fill="#dbeaf2"/>
<rect x="440.40" y="613.10" width="125.47" height="4.53" fill="#d6e7f1"/>
<rect x="440.40" y="617.04" width="125.47" height="4.53" fill="#deebf2"/>
<rect x="440.40" y="620.97" width="125.47" height="4.53" fill="#6babd0"/>
<rect x="440.40" y="624.90" width="125.47" height="4.53" fill="#6eadd1"/>
<rect x="440.40" y="628.83" width="125.47" height="4.53" fill="#a7cde3"/>
<rect x="440.40" y="632.77" width="125.47" height="4.53" fill="#87bbd9"/>
<rect x="440.40" y="636.70" width="125.47" height="4.53" fill="#6babd0"/>
<rect x="440.40" y="640.63" width="125.47" height="4.53" fill="#a3cbe2"/>
<rect x="440.40" y="644.57" width="125.47" height="3.93" fill="#c3ddec"/>
<rect x="565.27" y="78.20" width="125.47" height="4.53" fill="#df6c53"/>
<rect x="565.27" y="82.13" width="125.47" height="4.53" fill="#cc4943"/>
<rect x="565.27" y="86.07" width="125.47" height="4.53" fill="#c2363a"/>
<rect x="565.27" y="90.00" width="125.47" height="4.53" fill="#b2182b"/>
<rect x="565.27" y="93.93" width="125.47" height="4.53" fill="#b6202f"/>
<rect x="565.27" y="97.87" width="125.47" height="4.53" fill="#be2f36"/>
<rect x="565.27" y="101.80" width="125.47" height="4.53" fill="#b82331"/>
<rect x="565.27" y="105.73" width="125.47" height="4.53" fill="#ba2732"/>
<rect x="565.27" y="109.66" width="125.47" height="4.53" fill="#b2182b"/>
<rect x="565.27" y="113.60" width="125.47" height="4.53" fill="#d4e6f0"/>
<rect x="565.27" y="117.53" width="125.47" height="4.53" fill="#e97f5c"/>
<rect x="565.27" y="121.46" width="125.47" height="4.53" fill="#ef8a62"/>
<rect x="565.27" y="125.40" width="125.47" height="4.53" fill="#fbceb6"/>
<rect x="565.27" y="129.33" width="125.47" height="4.53" fill="#f4a584"/>
<rect x="565.27" y="133.26" width="125.47" height="4.53" fill="#f5ad8e"/>
<rect x="565.27" y="137.20" width="125.47" height="4.53" fill="#f7b89b"/>
<rect x="565.27" y="141.13" width="125.47" height="4.53" fill="#f4a584"/>
<rect x="565.27" y="145.06" width="125.47" height="4.53" fill="#f0926c"/>
<rect x="565.27" y="149.00" width="125.47" height="4.53" fill="#f1956f"/>
<rect x="565.27" y="152.93" width="125.47" height="4.53" fill="#f19773"/>
<rect x="565.27" y="156.86" width="125.47" height="4.53" fill="#f1956f"/>
<rect x="565.27" y="160.80" width="125.47" height="4.53" fill="#f6b598"/>
<rect x="565.27" y="164.73" width="125.47" height="4.53" fill="#f3a280"/>
<rect x="565.27" y="168.66" width="125.47" height="4.53" fill="#f3a07d"/>
<rect x="565.27" y="172.59" width="125.47" height="4.53" fill="#fbe6da"/>
<rect x="565.27" y="176.53" width="125.47" height="4.53" fill="#fcd6c0"/>
<rect x="565.27" y="180.46" width="125.47" height="4.53" fill="#f9c3a9"/>
<rect x="565.27" y="184.39" width="125.47" height="8.47" fill="#fcdecc"/>
<rect x="565.27" y="192.26" width="125.47" height="4.53" fill="#f3a280"/>
<rect x="565.27" y="196.19" width="125.47" height="4.53" fill="#fac8af"/>
<rect x="565.27" y="200.13" width="125.47" height="4.53" fill="#f8c0a5"/>
<rect x="565.27" y="204.06" width="125.47" height="4.53" fill="#f9c5ac"/>
<rect x="565.27" y="207.99" width="125.47" height="4.53" fill="#f7f7f7"/>
<rect x="565.27" y="211.93" width="125.47" height="4.53" fill="#fbe6da"/>
<rect x="565.27" y="215.86" width="125.47" height="4.53" fill="#fbceb6"/>
<rect x="565.27" y="219.79" width="125.47" height="4.53" fill="#facbb3"/>
<rect x="565.27" y="223.72" width="125.47" height="8.47" fill="#fcdecc"/>
<rect x="565.27" y="231.59" width="125.47" height="4.53" fill="#f9eee7"/>
<rect x="565.27" y="235.52" width="125.47" height="4.53" fill="#fce2d2"/>
<rect x="565.27" y="239.46" width="125.47" height="4.53" fill="#eb825e"/>
<rect x="565.27" y="243.39" width="125.47" height="8.47" fill="#d9604e"/>
<rect x="565.27" y="251.26" width="125.47" height="4.53" fill="#e37357"/>
<rect x="565.27" y="255.19" width="125.47" height="4.53" fill="#f1956f"/>
<rect x="565.27" y="259.12" width="125.47" height="4.53" fill="#ed8660"/>
<rect x="565.27" y="263.06" width="125.47" height="4.53" fill="#f08f69"/>
<rect x="565.27" y="266.99" width="125.47" height="4.53" fill="#f29d7a"/>
<rect x="565.27" y="270.92" width="125.47" height="4.53" fill="#dd6852"/>
<rect x="565.27" y="274.86" width="125.47" height="4.53" fill="#ef8a62"/>
<rect x="565.27" y="278.79" width="125.47" height="4.53" fill="#ed8660"/>
<rect x="565.27" y="282.72" width="125.47" height="4.53" fill="#f7b89b"/>
<rect x="565.27" y="286.65" width="125.47" height="4.53" fill="#f29a76"/>
<rect x="565.27" y="290.59" width="125.47" height="4.53" fill="#ef8a62"/>
<rect x="565.27" y="294.52" width="125.47" height="4.53" fill="#f5aa8a"/>
<rect x="565.27" y="298.45" width="125.47" height="4.53" fill="#f8c0a5"/>
<rect x="565.27" y="302.39" width="125.47" height="8.47" fill="#deebf2"/>
<rect x="565.27" y="310.25" width="125.47" height="4.53" fill="#f7f7f7"/>
<rect x="565.27" y="314.19" width="125.47" height="4.53" fill="#e4eef4"/>
<rect x="565.27" y="318.12" width="125.47" height="4.53" fill="#fcd6c0"/>
<rect x="565.27" y="322.05" width="125.47" height="4.53" fill="#e9f0f4"/>
<rect x="565.27" y="325.99" width="125.47" height="4.53" fill="#e7eff4"/>
<rect x="565.27" y="329.92" width="125.47" height="4.53" fill="#eaf1f5"/>
<rect x="565.27" y="333.85" width="125.47" height="4.53" fill="#eef3f5"/>
<rect x="565.27" y="337.78" width="125.47" height="8.47" fill="#f3f5f6"/>
<rect x="565.27" y="345.65" width="125.47" height="4.53" fill="#eef3f5"/>
<rect x="565.27" y="349.58" width="125.47" height="4.53" fill="#f3f5f6"/>
<rect x="565.27" y="353.52" width="125.47" height="4.53" fill="#f7f7f7"/>
<rect x="565.27" y="357.45" width="125.47" height="4.53" fill="#f7f5f4"/>
<rect x="565.27" y="361.38" width="125.47" height="4.53" fill="#f7f6f5"/>
<rect x="565.27" y="365.32" width="125.47" height="8.47" fill="#f7f5f4"/>
<rect x="565.27" y="373.18" width="125.47" height="4.53" fill="#fae8dd"/>
<rect x="565.27" y="377.12" width="125.47" height="4.53" fill="#fae7dc"/>
<rect x="565.27" y="381.05" width="125.47" height="8.47" fill="#fbe6da"/>
<rect x="565.27" y="388.92" width="125.47" height="4.53" fill="#f9f0ea"/>
<rect x="565.27" y="392.85" width="125.47" height="4.53" fill="#faebe2"/>
<rect x="565.27" y="396.78" width="125.47" height="4.53" fill="#f9f0ea"/>
<rect x="565.27" y="400.71" width="125.47" height="4.53" fill="#faebe2"/>
<rect x="565.27" y="404.65" width="125.47" height="4.53" fill="#f9f0ea"/>
<rect x="565.27" y="408.58" width="125.47" height="4.53" fill="#faebe2"/>
<rect x="565.27" y="412.51" width="125.47" height="8.47" fill="#f7f7f7"/>
<rect x="565.27" y="420.38" width="125.47" height="4.53" fill="#f8f2ef"/>
<rect x="565.27" y="424.31" width="125.47" height="4.53" fill="#f7f7f7"/>
<rect x="565.27" y="428.25" width="125.47" height="4.53" fill="#faebe2"/>
<rect x="565.27" y="432.18" width="125.47" height="4.53" fill="#f7f6f5"/>
<rect x="565.27" y="436.11" width="125.47" height="4.53" fill="#faeae1"/>
<rect x="565.27" y="440.05" width="125.47" height="4.53" fill="#f7f7f7"/>
<rect x="565.27" y="443.98" width="125.47" height="4.53" fill="#dae9f2"/>
<rect x="565.27" y="447.91" width="125.47" height="4.53" fill="#d7e8f1"/>
<rect x="565.27" y="451.84" width="125.47" height="4.53" fill="#deebf2"/>
<rect x="565.27" y="455.78" width="125.47" height="4.53" fill="#d7e8f1"/>
<rect x="565.27" y="459.71" width="125.47" height="4.53" fill="#deebf2"/>
<rect x="565.27" y="463.64" width="125.47" height="4.53" fill="#d4e6f0"/>
<rect x="565.27" y="467.58" width="125.47" height="4.53" fill="#d7e8f1"/>
<rect x="565.27" y="471.51" width="125.47" height="4.53" fill="#f19773"/>
<rect x="565.27" y="475.44" width="125.47" height="4.53" fill="#fbd0ba"/>
<rect x="565.27" y="479.38" width="125.47" height="4.53" fill="#f7bb9f"/>
<rect x="565.27" y="483.31" width="125.47" height="4.53" fill="#f9ece4"/>
<rect x="565.27" y="487.24" width="125.47" height="4.53" fill="#faebe2"/>
<rect x="565.27" y="491.18" width="125.47" height="4.53" fill="#fcdecc"/>
<rect x="565.27" y="495.11" width="125.47" height="4.53" fill="#f8f1ed"/>
<rect x="565.27" y="499.04" width="125.47" height="4.53" fill="#f9efe9"/>
<rect x="565.27" y="502.98" width="125.47" height="4.53" fill="#fae9df"/>
<rect x="565.27" y="506.91" width="125.47" height="4.53" fill="#fbe6da"/>
<rect x="565.27" y="510.84" width="125.47" height="4.53" fill="#f4a584"/>
<rect x="565.27" y="514.77" width="125.47" height="4.53" fill="#ef8a62"/>
<rect x="565.27" y="518.71" width="125.47" height="4.53" fill="#d9604e"/>
<rect x="565.27" y="522.64" width="125.47" height="4.53" fill="#f8f4f2"/>
<rect x="565.27" y="526.57" width="125.47" height="4.53" fill="#f6b091"/>
<rect x="565.27" y="530.51" width="125.47" height="4.53" fill="#d6e7f1"/>
<rect x="565.27" y="534.44" width="125.47" height="4.53" fill="#d5e7f1"/>
<rect x="565.27" y="538.37" width="125.47" height="4.53" fill="#c6dfed"/>
<rect x="565.27" y="542.31" width="125.47" height="4.53" fill="#d2e6f0"/>
<rect x="565.27" y="546.24" width="125.47" height="4.53" fill="#bfdbea"/>
<rect x="565.27" y="550.17" width="125.47" height="4.53" fill="#d1e5f0"/>
<rect x="565.27" y="554.11" width="125.47" height="4.53" fill="#bfdbea"/>
<rect x="565.27" y="558.04" width="125.47" height="4.53" fill="#d4e6f0"/>
<rect x="565.27" y="561.97" width="125.47" height="4.53" fill="#cae1ee"/>
<rect x="565.27" y="565.90" width="125.47" height="4.53" fill="#cde3ef"/>
<rect x="565.27" y="569.84" width="125.47" height="4.53" fill="#f3f5f6"/>
<rect x="565.27" y="573.77" width="125.47" height="8.47" fill="#e9f0f4"/>
<rect x="565.27" y="581.64" width="125.47" height="4.53" fill="#e8f0f4"/>
<rect x="565.27" y="585.57" width="125.47" height="4.53" fill="#d9e9f1"/>
<rect x="565.27" y="589.50" width="125.47" height="4.53" fill="#d5e7f1"/>
<rect x="565.27" y="593.44" width="125.47" height="4.53" fill="#b8d7e8"/>
<rect x="565.27" y="597.37" width="125.47" height="4.53" fill="#c6dfed"/>
<rect x="565.27" y="601.30" width="125.47" height="4.53" fill="#8abdda"/>
<rect x="565.27" y="605.24" width="125.47" height="4.53" fill="#c3ddec"/>
<rect x="565.27" y="609.17" width="125.47" height="4.53" fill="#e3edf3"/>
<rect x="565.27" y="613.10" width="125.47" height="4.53" fill="#c3ddec"/>
<rect x="565.27" y="617.04" width="125.47" height="4.53" fill="#e0ecf3"/>
<rect x="565.27" y="620.97" width="125.47" height="4.53" fill="#8abdda"/>
<rect x="565.27" y="624.90" width="125.47" height="4.53" fill="#e9f0f4"/>
<rect x="565.27" y="628.83" width="125.47" height="8.47" fill="#d4e6f0"/>
<rect x="565.27" y="636.70" width="125.47" height="4.53" fill="#9cc7e0"/>
<rect x="565.27" y="640.63" width="125.47" height="4.53" fill="#98c5de"/>
<rect x="565.27" y="644.57" width="125.47" height="3.93" fill="#67a9cf"/>
<rect x="690.13" y="78.20" width="124.87" height="4.53" fill="#67a9cf"/>
<rect x="690.13" y="82.13" width="124.87" height="4.53" fill="#aed1e5"/>
<rect x="690.13" y="86.07" width="124.87" height="4.53" fill="#8abdda"/>
<rect x="690.13" y="90.00" width="124.87" height="4.53" fill="#f1f4f6"/>
<rect x="690.13" y="93.93" width="124.87" height="4.53" fill="#edf2f5"/>
<rect x="690.13" y="97.87" width="124.87" height="8.47" fill="#c6dfed"/>
<rect x="690.13" y="105.73" width="124.87" height="4.53" fill="#bfdbea"/>
<rect x="690.13" y="109.66" width="124.87" height="4.53" fill="#cae1ee"/>
<rect x="690.13" y="113.60" width="124.87" height="4.53" fill="#f3f5f6"/>
<rect x="690.13" y="117.53" width="124.87" height="4.53" fill="#e8f0f4"/>
<rect x="690.13" y="121.46" width="124.87" height="4.53" fill="#eaf1f5"/>
<rect x="690.13" y="125.40" width="124.87" height="4.53" fill="#f8f4f2"/>
<rect x="690.13" y="129.33" width="124.87" height="4.53" fill="#edf2f5"/>
<rect x="690.13" y="133.26" width="124.87" height="4.53" fill="#e5eff4"/>
<rect x="690.13" y="137.20" width="124.87" height="4.53" fill="#f4f6f7"/>
<rect x="690.13" y="141.13" width="124.87" height="4.53" fill="#f7f7f7"/>
<rect x="690.13" y="145.06" width="124.87" height="4.53" fill="#e4eef4"/>
<rect x="690.13" y="149.00" width="124.87" height="4.53" fill="#e1edf3"/>
<rect x="690.13" y="152.93" width="124.87" height="4.53" fill="#e5eff4"/>
<rect x="690.13" y="156.86" width="124.87" height="4.53" fill="#edf2f5"/>
<rect x="690.13" y="160.80" width="124.87" height="4.53" fill="#deebf2"/>
<rect x="690.13" y="164.73" width="124.87" height="4.53" fill="#dceaf2"/>
<rect x="690.13" y="168.66" width="124.87" height="4.53" fill="#dfecf3"/>
<rect x="690.13" y="172.59" width="124.87" height="4.53" fill="#dbeaf2"/>
<rect x="690.13" y="176.53" width="124.87" height="4.53" fill="#deebf2"/>
<rect x="690.13" y="180.46" width="124.87" height="4.53" fill="#eaf1f5"/>
<rect x="690.13" y="184.39" width="124.87" height="8.47" fill="#edf2f5"/>
<rect x="690.13" y="192.26" width="124.87" height="4.53" fill="#dae9f2"/>
<rect x="690.13" y="196.19" width="124.87" height="4.53" fill="#deebf2"/>
<rect x="690.13" y="200.13" width="124.87" height="4.53" fill="#dae9f2"/>
<rect x="690.13" y="204.06" width="124.87" height="4.53" fill="#dbeaf2"/>
<rect x="690.13" y="207.99" width="124.87" height="4.53" fill="#eff3f6"/>
<rect x="690.13" y="211.93" width="124.87" height="4.53" fill="#edf2f5"/>
<rect x="690.13" y="215.86" width="124.87" height="4.53" fill="#d4e6f0"/>
<rect x="690.13" y="219.79" width="124.87" height="4.53" fill="#d2e6f0"/>
<rect x="690.13" y="223.72" width="124.87" height="8.47" fill="#d4e6f0"/>
<rect x="690.13" y="231.59" width="124.87" height="4.53" fill="#e5eff4"/>
<rect x="690.13" y="235.52" width="124.87" height="4.53" fill="#e4eef4"/>
<rect x="690.13" y="239.46" width="124.87" height="4.53" fill="#fce2d2"/>
<rect x="690.13" y="243.39" width="124.87" height="4.53" fill="#fae8dd"/>
<rect x="690.13" y="247.32" width="124.87" height="4.53" fill="#fdddca"/>
<rect x="690.13" y="251.26" width="124.87" height="8.47" fill="#f8f1ed"/>
<rect x="690.13" y="259.12" width="124.87" height="4.53" fill="#f9ede5"/>
<rect x="690.13" y="263.06" width="124.87" height="4.53" fill="#f9ece4"/>
<rect x="690.13" y="266.99" width="124.87" height="4.53" fill="#f7f7f7"/>
<rect x="690.13" y="270.92" width="124.87" height="4.53" fill="#f7f5f4"/>
<rect x="690.13" y="274.86" width="124.87" height="4.53" fill="#f8f3f1"/>
<rect x="690.13" y="278.79" width="124.87" height="4.53" fill="#fae8dd"/>
<rect x="690.13" y="282.72" width="124.87" height="8.47" fill="#fcdecc"/>
<rect x="690.13" y="290.59" width="124.87" height="4.53" fill="#fddbc7"/>
<rect x="690.13" y="294.52" width="124.87" height="8.47" fill="#fdd8c4"/>
<rect x="690.13" y="302.39" width="124.87" height="4.53" fill="#d4e6f0"/>
<rect x="690.13" y="306.32" width="124.87" height="4.53" fill="#d1e5f0"/>
<rect x="690.13" y="310.25" width="124.87" height="8.47" fill="#d4e6f0"/>
<rect x="690.13" y="318.12" width="124.87" height="4.53" fill="#6babd0"/>
<rect x="690.13" y="322.05" width="124.87" height="4.53" fill="#8ebfdb"/>
<rect x="690.13" y="325.99" width="124.87" height="4.53" fill="#deebf2"/>
<rect x="690.13" y="329.92" width="124.87" height="8.47" fill="#bfdbea"/>
<rect x="690.13" y="337.78" width="124.87" height="4.53" fill="#d1e5f0"/>
<rect x="690.13" y="341.72" width="124.87" height="4.53" fill="#d4e6f0"/>
<rect x="690.13" y="345.65" width="124.87" height="4.53" fill="#deebf2"/>
<rect x="690.13" y="349.58" width="124.87" height="4.53" fill="#d2e6f0"/>
<rect x="690.13" y="353.52" width="124.87" height="4.53" fill="#d4e6f0"/>
<rect x="690.13" y="357.45" width="124.87" height="4.53" fill="#cde3ef"/>
<rect x="690.13" y="361.38" width="124.87" height="4.53" fill="#d4e6f0"/>
<rect x="690.13" y="365.32" width="124.87" height="4.53" fill="#b8d7e8"/>
<rect x="690.13" y="369.25" width="124.87" height="4.53" fill="#bcd9e9"/>
<rect x="690.13" y="373.18" width="124.87" height="4.53" fill="#d7e8f1"/>
<rect x="690.13" y="377.12" width="124.87" height="4.53" fill="#dae9f2"/>
<rect x="690.13" y="381.05" width="124.87" height="4.53" fill="#e5eff4"/>
<rect x="690.13" y="384.98" width="124.87" height="4.53" fill="#bfdbea"/>
<rect x="690.13" y="388.92" width="124.87" height="4.53" fill="#d6e7f1"/>
<rect x="690.13" y="392.85" width="124.87" height="4.53" fill="#c3ddec"/>
<rect x="690.13" y="396.78" width="124.87" height="4.53" fill="#d2e6f0"/>
<rect x="690.13" y="400.71" width="124.87" height="4.53" fill="#d1e5f0"/>
<rect x="690.13" y="404.65" width="124.87" height="4.53" fill="#d4e6f0"/>
<rect x="690.13" y="408.58" width="124.87" height="4.53" fill="#cde3ef"/>
<rect x="690.13" y="412.51" width="124.87" height="4.53" fill="#dae9f2"/>
<rect x="690.13" y="416.45" width="124.87" height="4.53" fill="#d4e6f0"/>
<rect x="690.13" y="420.38" width="124.87" height="4.53" fill="#fae9df"/>
<rect x="690.13" y="424.31" width="124.87" height="4.53" fill="#e3edf3"/>
<rect x="690.13" y="428.25" width="124.87" height="4.53" fill="#dfecf3"/>
<rect x="690.13" y="432.18" width="124.87" height="4.53" fill="#e4eef4"/>
<rect x="690.13" y="436.11" width="124.87" height="4.53" fill="#e3edf3"/>
<rect x="690.13" y="440.05" width="124.87" height="4.53" fill="#b2182b"/>
<rect x="690.13" y="443.98" width="124.87" height="4.53" fill="#b41c2d"/>
<rect x="690.13" y="447.91" width="124.87" height="8.47" fill="#b2182b"/>
<rect x="690.13" y="455.78" width="124.87" height="4.53" fill="#b41c2d"/>
<rect x="690.13" y="459.71" width="124.87" height="4.53" fill="#ba2732"/>
<rect x="690.13" y="463.64" width="124.87" height="4.53" fill="#c2363a"/>
<rect x="690.13" y="467.58" width="124.87" height="4.53" fill="#ca4641"/>
<rect x="690.13" y="471.51" width="124.87" height="4.53" fill="#f3a280"/>
<rect x="690.13" y="475.44" width="124.87" height="4.53" fill="#e57759"/>
<rect x="690.13" y="479.38" width="124.87" height="4.53" fill="#e97f5c"/>
<rect x="690.13" y="483.31" width="124.87" height="4.53" fill="#c43a3b"/>
<rect x="690.13" y="487.24" width="124.87" height="4.53" fill="#c63e3d"/>
<rect x="690.13" y="491.18" width="124.87" height="4.53" fill="#c8423f"/>
<rect x="690.13" y="495.11" width="124.87" height="4.53" fill="#f6f6f7"/>
<rect x="690.13" y="499.04" width="124.87" height="4.53" fill="#e3edf3"/>
<rect x="690.13" y="502.98" width="124.87" height="4.53" fill="#e0ecf3"/>
<rect x="690.13" y="506.91" width="124.87" height="4.53" fill="#fae8dd"/>
<rect x="690.13" y="510.84" width="124.87" height="4.53" fill="#f3f5f6"/>
<rect x="690.13" y="514.77" width="124.87" height="4.53" fill="#edf2f5"/>
<rect x="690.13" y="518.71" width="124.87" height="4.53" fill="#fdddca"/>
<rect x="690.13" y="522.64" width="124.87" height="4.53" fill="#e77b5b"/>
<rect x="690.13" y="526.57" width="124.87" height="4.53" fill="#fdd8c4"/>
<rect x="690.13" y="530.51" width="124.87" height="4.53" fill="#a0c9e1"/>
<rect x="690.13" y="534.44" width="124.87" height="4.53" fill="#b1d3e6"/>
<rect x="690.13" y="538.37" width="124.87" height="4.53" fill="#b5d5e7"/>
<rect x="690.13" y="542.31" width="124.87" height="4.53" fill="#9cc7e0"/>
<rect x="690.13" y="546.24" width="124.87" height="12.40" fill="#aed1e5"/>
<rect x="690.13" y="558.04" width="124.87" height="4.53" fill="#c6dfed"/>
<rect x="690.13" y="561.97" width="124.87" height="8.47" fill="#c3ddec"/>
<rect x="690.13" y="569.84" width="124.87" height="4.53" fill="#65a7ce"/>
<rect x="690.13" y="573.77" width="124.87" height="4.53" fill="#60a2cc"/>
<rect x="690.13" y="577.70" width="124.87" height="4.53" fill="#75b1d3"/>
<rect x="690.13" y="581.64" width="124.87" height="4.53" fill="#79b3d4"/>
<rect x="690.13" y="585.57" width="124.87" height="4.53" fill="#7cb5d6"/>
<rect x="690.13" y="589.50" width="124.87" height="4.53" fill="#79b3d4"/>
<rect x="690.13" y="593.44" width="124.87" height="4.53" fill="#72afd2"/>
<rect x="690.13" y="597.37" width="124.87" height="4.53" fill="#5ea0ca"/>
<rect x="690.13" y="601.30" width="124.87" height="4.53" fill="#a7cde3"/>
<rect x="690.13" y="605.24" width="124.87" height="4.53" fill="#d1e5f0"/>
<rect x="690.13" y="609.17" width="124.87" height="4.53" fill="#8ebfdb"/>
<rect x="690.13" y="613.10" width="124.87" height="4.53" fill="#b1d3e6"/>
<rect x="690.13" y="617.04" width="124.87" height="4.53" fill="#95c3dd"/>
<rect x="690.13" y="620.97" width="124.87" height="4.53" fill="#deebf2"/>
<rect x="690.13" y="624.90" width="124.87" height="4.53" fill="#5ea0ca"/>
<rect x="690.13" y="628.83" width="124.87" height="4.53" fill="#5b9ec9"/>
<rect x="690.13" y="632.77" width="124.87" height="4.53" fill="#5ea0ca"/>
<rect x="690.13" y="636.70" width="124.87" height="4.53" fill="#dbeaf2"/>
<rect x="690.13" y="640.63" width="124.87" height="7.87" fill="#98c5de"/>
</g>
<defs><linearGradient id="cb" x1="0" y1="1" x2="0" y2="0">
<stop offset="0.0000" stop-color="#2166AC"/>
<stop offset="0.1667" stop-color="#67A9CF"/>
<stop offset="0.3333" stop-color="#D1E5F0"/>
<stop offset="0.5000" stop-color="#F7F7F7"/>
<stop offset="0.6667" stop-color="#FDDBC7"/>
<stop offset="0.8333" stop-color="#EF8A62"/>
<stop offset="1.0000" stop-color="#B2182B"/>
</linearGradient></defs>
<rect x="820.6" y="78.5" width="12.5" height="192.6" fill="url(#cb)"/>
<text x="835.6" y="105.3" font-family="Liberation Sans, Arial, sans-serif" font-size="13" fill="#000">1.5</text>
<text x="835.6" y="130.7" font-family="Liberation Sans, Arial, sans-serif" font-size="13" fill="#000">1</text>
<text x="835.6" y="156.1" font-family="Liberation Sans, Arial, sans-serif" font-size="13" fill="#000">0.5</text>
<text x="835.6" y="181.5" font-family="Liberation Sans, Arial, sans-serif" font-size="13" fill="#000">0</text>
<text x="835.6" y="206.9" font-family="Liberation Sans, Arial, sans-serif" font-size="13" fill="#000">−0.5</text>
<text x="835.6" y="232.3" font-family="Liberation Sans, Arial, sans-serif" font-size="13" fill="#000">−1</text>
<text x="835.6" y="257.7" font-family="Liberation Sans, Arial, sans-serif" font-size="13" fill="#000">−1.5</text>
<path d="M253.1,78.2 L253.1,50.7 L378.0,50.7 L378.0,78.2 M128.2,78.2 L128.2,29.6 L315.5,29.6 L315.5,50.7 M627.7,78.2 L627.7,40.2 L752.6,40.2 L752.6,78.2 M502.8,78.2 L502.8,29.3 L690.1,29.3 L690.1,40.2 M221.9,29.6 L221.9,10.6 L596.5,10.6 L596.5,29.3" fill="none" stroke="#2b2b2b" stroke-width="1.25"/>
<path d="M44.8,80.2L65.8,80.2 M63.0,84.1L65.8,84.1 M63.0,88.0L65.8,88.0 M63.0,84.1L63.0,88.0 M58.5,86.1L63.0,86.1 M63.2,92.0L65.8,92.0 M63.2,95.9L65.8,95.9 M63.2,92.0L63.2,95.9 M59.9,93.9L63.2,93.9 M61.2,99.8L65.8,99.8 M63.7,103.8L65.8,103.8 M64.9,107.7L65.8,107.7 M64.9,111.6L65.8,111.6 M64.9,107.7L64.9,111.6 M63.7,109.7L64.9,109.7 M63.7,103.8L63.7,109.7 M61.2,106.7L63.7,106.7 M61.2,99.8L61.2,106.7 M59.9,103.3L61.2,103.3 M59.9,93.9L59.9,103.3 M58.5,98.6L59.9,98.6 M58.5,86.1L58.5,98.6 M44.8,91.4L58.5,91.4 M44.8,80.2L44.8,91.4 M39.4,85.8L44.8,85.8 M42.1,115.6L65.8,115.6 M65.1,119.5L65.8,119.5 M65.1,123.4L65.8,123.4 M65.1,119.5L65.1,123.4 M61.9,121.5L65.1,121.5 M64.3,127.4L65.8,127.4 M66.7,131.3L65.8,131.3 M66.7,135.2L65.8,135.2 M66.7,131.3L66.7,135.2 M65.5,133.3L66.7,133.3 M66.7,139.2L65.8,139.2 M66.7,143.1L65.8,143.1 M66.7,139.2L66.7,143.1 M65.5,141.1L66.7,141.1 M65.5,133.3L65.5,141.1 M64.3,137.2L65.5,137.2 M64.3,127.4L64.3,137.2 M63.1,132.3L64.3,132.3 M66.7,147.0L65.8,147.0 M67.9,151.0L65.8,151.0 M67.9,154.9L65.8,154.9 M67.9,151.0L67.9,154.9 M66.7,152.9L67.9,152.9 M66.7,147.0L66.7,152.9 M65.5,150.0L66.7,150.0 M65.5,158.8L65.8,158.8 M65.5,150.0L65.5,158.8 M64.3,154.4L65.5,154.4 M65.5,162.8L65.8,162.8 M66.7,166.7L65.8,166.7 M66.7,170.6L65.8,170.6 M66.7,166.7L66.7,170.6 M65.5,168.7L66.7,168.7 M65.5,162.8L65.5,168.7 M64.3,165.7L65.5,165.7 M64.3,154.4L64.3,165.7 M63.1,160.1L64.3,160.1 M63.1,132.3L63.1,160.1 M61.9,146.2L63.1,146.2 M61.9,121.5L61.9,146.2 M60.7,133.8L61.9,133.8 M63.1,174.6L65.8,174.6 M66.7,178.5L65.8,178.5 M66.7,182.4L65.8,182.4 M66.7,178.5L66.7,182.4 M65.5,180.5L66.7,180.5 M66.7,186.4L65.8,186.4 M66.7,190.3L65.8,190.3 M66.7,186.4L66.7,190.3 M65.5,188.3L66.7,188.3 M65.5,180.5L65.5,188.3 M64.3,184.4L65.5,184.4 M65.5,194.2L65.8,194.2 M66.7,198.2L65.8,198.2 M67.9,202.1L65.8,202.1 M67.9,206.0L65.8,206.0 M67.9,202.1L67.9,206.0 M66.7,204.1L67.9,204.1 M66.7,198.2L66.7,204.1 M65.5,201.1L66.7,201.1 M65.5,194.2L65.5,201.1 M64.3,197.7L65.5,197.7 M64.3,184.4L64.3,197.7 M63.1,191.0L64.3,191.0 M63.1,174.6L63.1,191.0 M61.9,182.8L63.1,182.8 M64.3,210.0L65.8,210.0 M64.3,213.9L65.8,213.9 M64.3,210.0L64.3,213.9 M63.1,211.9L64.3,211.9 M65.5,217.8L65.8,217.8 M65.5,221.8L65.8,221.8 M65.5,217.8L65.5,221.8 M64.3,219.8L65.5,219.8 M66.7,225.7L65.8,225.7 M66.7,229.6L65.8,229.6 M66.7,225.7L66.7,229.6 M65.5,227.7L66.7,227.7 M66.7,233.6L65.8,233.6 M66.7,237.5L65.8,237.5 M66.7,233.6L66.7,237.5 M65.5,235.5L66.7,235.5 M65.5,227.7L65.5,235.5 M64.3,231.6L65.5,231.6 M64.3,219.8L64.3,231.6 M63.1,225.7L64.3,225.7 M63.1,211.9L63.1,225.7 M61.9,218.8L63.1,218.8 M61.9,182.8L61.9,218.8 M60.7,200.8L61.9,200.8 M60.7,133.8L60.7,200.8 M59.5,167.3L60.7,167.3 M62.3,241.4L65.8,241.4 M64.2,245.4L65.8,245.4 M64.2,249.3L65.8,249.3 M64.2,245.4L64.2,249.3 M62.3,247.3L64.2,247.3 M62.3,241.4L62.3,247.3 M61.0,244.4L62.3,244.4 M64.8,253.2L65.8,253.2 M66.0,257.2L65.8,257.2 M67.2,261.1L65.8,261.1 M67.2,265.0L65.8,265.0 M67.2,261.1L67.2,265.0 M66.0,263.1L67.2,263.1 M66.0,257.2L66.0,263.1 M64.8,260.1L66.0,260.1 M64.8,253.2L64.8,260.1 M63.4,256.7L64.8,256.7 M64.6,269.0L65.8,269.0 M65.8,272.9L65.8,272.9 M67.0,276.8L65.8,276.8 M67.0,280.8L65.8,280.8 M67.0,276.8L67.0,280.8 M65.8,278.8L67.0,278.8 M65.8,272.9L65.8,278.8 M64.6,275.8L65.8,275.8 M64.6,269.0L64.6,275.8 M63.4,272.4L64.6,272.4 M63.4,256.7L63.4,272.4 M62.2,264.5L63.4,264.5 M63.5,284.7L65.8,284.7 M65.9,288.6L65.8,288.6 M65.9,292.6L65.8,292.6 M65.9,288.6L65.9,292.6 M64.7,290.6L65.9,290.6 M65.9,296.5L65.8,296.5 M65.9,300.4L65.8,300.4 M65.9,296.5L65.9,300.4 M64.7,298.5L65.9,298.5 M64.7,290.6L64.7,298.5 M63.5,294.5L64.7,294.5 M63.5,284.7L63.5,294.5 M62.2,289.6L63.5,289.6 M62.2,264.5L62.2,289.6 M61.0,277.1L62.2,277.1 M61.0,244.4L61.0,277.1 M59.5,260.7L61.0,260.7 M59.5,167.3L59.5,260.7 M50.3,208.7L59.5,208.7 M65.2,304.4L65.8,304.4 M65.2,308.3L65.8,308.3 M65.2,304.4L65.2,308.3 M61.9,306.3L65.2,306.3 M63.3,312.2L65.8,312.2 M63.3,316.2L65.8,316.2 M63.3,312.2L63.3,316.2 M61.9,314.2L63.3,314.2 M61.9,306.3L61.9,314.2 M58.4,310.3L61.9,310.3 M59.6,320.1L65.8,320.1 M62.9,324.0L65.8,324.0 M66.5,328.0L65.8,328.0 M67.7,331.9L65.8,331.9 M68.9,335.8L65.8,335.8 M70.1,339.8L65.8,339.8 M70.1,343.7L65.8,343.7 M70.1,339.8L70.1,343.7 M68.9,341.7L70.1,341.7 M68.9,335.8L68.9,341.7 M67.7,338.8L68.9,338.8 M67.7,331.9L67.7,338.8 M66.5,335.3L67.7,335.3 M66.5,328.0L66.5,335.3 M65.3,331.6L66.5,331.6 M65.3,347.6L65.8,347.6 M65.3,331.6L65.3,347.6 M64.1,339.6L65.3,339.6 M67.7,351.6L65.8,351.6 M67.7,355.5L65.8,355.5 M67.7,351.6L67.7,355.5 M66.5,353.5L67.7,353.5 M67.7,359.4L65.8,359.4 M67.7,363.3L65.8,363.3 M67.7,359.4L67.7,363.3 M66.5,361.4L67.7,361.4 M66.5,353.5L66.5,361.4 M65.3,357.5L66.5,357.5 M66.5,367.3L65.8,367.3 M66.5,371.2L65.8,371.2 M66.5,367.3L66.5,371.2 M65.3,369.2L66.5,369.2 M65.3,357.5L65.3,369.2 M64.1,363.4L65.3,363.4 M64.1,339.6L64.1,363.4 M62.9,351.5L64.1,351.5 M62.9,324.0L62.9,351.5 M61.7,337.8L62.9,337.8 M66.9,375.1L65.8,375.1 M66.9,379.1L65.8,379.1 M66.9,375.1L66.9,379.1 M65.7,377.1L66.9,377.1 M65.7,383.0L65.8,383.0 M65.7,377.1L65.7,383.0 M64.5,380.1L65.7,380.1 M64.5,386.9L65.8,386.9 M64.5,380.1L64.5,386.9 M63.3,383.5L64.5,383.5 M66.9,390.9L65.8,390.9 M69.3,394.8L65.8,394.8 M69.3,398.7L65.8,398.7 M69.3,394.8L69.3,398.7 M68.1,396.8L69.3,396.8 M68.1,402.7L65.8,402.7 M68.1,396.8L68.1,402.7 M66.9,399.7L68.1,399.7 M66.9,390.9L66.9,399.7 M65.7,395.3L66.9,395.3 M66.9,406.6L65.8,406.6 M66.9,410.5L65.8,410.5 M66.9,406.6L66.9,410.5 M65.7,408.6L66.9,408.6 M65.7,395.3L65.7,408.6 M64.5,401.9L65.7,401.9 M65.7,414.5L65.8,414.5 M65.7,418.4L65.8,418.4 M65.7,414.5L65.7,418.4 M64.5,416.4L65.7,416.4 M64.5,401.9L64.5,416.4 M63.3,409.2L64.5,409.2 M63.3,383.5L63.3,409.2 M61.7,396.4L63.3,396.4 M61.7,337.8L61.7,396.4 M59.6,367.1L61.7,367.1 M59.6,320.1L59.6,367.1 M58.4,343.6L59.6,343.6 M58.4,310.3L58.4,343.6 M55.4,326.9L58.4,326.9 M61.4,422.3L65.8,422.3 M64.7,426.3L65.8,426.3 M64.7,430.2L65.8,430.2 M64.7,426.3L64.7,430.2 M62.8,428.2L64.7,428.2 M64.0,434.1L65.8,434.1 M64.0,438.1L65.8,438.1 M64.0,434.1L64.0,438.1 M62.8,436.1L64.0,436.1 M62.8,428.2L62.8,436.1 M61.4,432.2L62.8,432.2 M61.4,422.3L61.4,432.2 M55.4,427.3L61.4,427.3 M55.4,326.9L55.4,427.3 M50.3,330.6L55.4,330.6 M50.3,208.7L50.3,330.6 M42.1,269.6L50.3,269.6 M42.1,115.6L42.1,269.6 M39.4,192.6L42.1,192.6 M39.4,85.8L39.4,192.6 M24.0,139.2L39.4,139.2 M63.1,442.0L65.8,442.0 M65.7,445.9L65.8,445.9 M65.7,449.9L65.8,449.9 M65.7,445.9L65.7,449.9 M64.5,447.9L65.7,447.9 M65.7,453.8L65.8,453.8 M65.7,457.7L65.8,457.7 M65.7,453.8L65.7,457.7 M64.5,455.8L65.7,455.8 M64.5,447.9L64.5,455.8 M63.1,451.8L64.5,451.8 M63.1,442.0L63.1,451.8 M60.8,446.9L63.1,446.9 M62.6,461.7L65.8,461.7 M64.6,465.6L65.8,465.6 M64.6,469.5L65.8,469.5 M64.6,465.6L64.6,469.5 M62.6,467.6L64.6,467.6 M62.6,461.7L62.6,467.6 M60.8,464.6L62.6,464.6 M60.8,446.9L60.8,464.6 M52.4,455.8L60.8,455.8 M62.8,473.5L65.8,473.5 M64.0,477.4L65.8,477.4 M64.0,481.3L65.8,481.3 M64.0,477.4L64.0,481.3 M62.8,479.4L64.0,479.4 M62.8,473.5L62.8,479.4 M59.6,476.4L62.8,476.4 M61.7,485.3L65.8,485.3 M64.2,489.2L65.8,489.2 M64.2,493.1L65.8,493.1 M64.2,489.2L64.2,493.1 M61.7,491.2L64.2,491.2 M61.7,485.3L61.7,491.2 M59.6,488.2L61.7,488.2 M59.6,476.4L59.6,488.2 M52.4,482.3L59.6,482.3 M52.4,455.8L52.4,482.3 M33.9,468.7L52.4,468.7 M63.2,497.1L65.8,497.1 M65.3,501.0L65.8,501.0 M65.3,504.9L65.8,504.9 M65.3,501.0L65.3,504.9 M63.2,503.0L65.3,503.0 M63.2,497.1L63.2,503.0 M48.8,500.0L63.2,500.0 M61.2,508.9L65.8,508.9 M64.6,512.8L65.8,512.8 M64.6,516.7L65.8,516.7 M64.6,512.8L64.6,516.7 M61.2,514.8L64.6,514.8 M61.2,508.9L61.2,514.8 M57.5,511.8L61.2,511.8 M59.4,520.7L65.8,520.7 M61.5,524.6L65.8,524.6 M61.5,528.5L65.8,528.5 M61.5,524.6L61.5,528.5 M59.4,526.6L61.5,526.6 M59.4,520.7L59.4,526.6 M57.5,523.6L59.4,523.6 M57.5,511.8L57.5,523.6 M48.8,517.7L57.5,517.7 M48.8,500.0L48.8,517.7 M33.9,509.1L48.8,509.1 M33.9,468.7L33.9,509.1 M24.0,488.9L33.9,488.9 M24.0,139.2L24.0,488.9 M1.5,314.0L24.0,314.0 M63.0,532.5L65.8,532.5 M66.6,536.4L65.8,536.4 M66.6,540.3L65.8,540.3 M66.6,536.4L66.6,540.3 M65.4,538.4L66.6,538.4 M65.4,544.3L65.8,544.3 M65.4,538.4L65.4,544.3 M64.2,541.3L65.4,541.3 M65.4,548.2L65.8,548.2 M66.6,552.1L65.8,552.1 M66.6,556.1L65.8,556.1 M66.6,552.1L66.6,556.1 M65.4,554.1L66.6,554.1 M65.4,548.2L65.4,554.1 M64.2,551.2L65.4,551.2 M64.2,541.3L64.2,551.2 M63.0,546.2L64.2,546.2 M63.0,532.5L63.0,546.2 M61.6,539.4L63.0,539.4 M63.1,560.0L65.8,560.0 M65.0,563.9L65.8,563.9 M65.0,567.9L65.8,567.9 M65.0,563.9L65.0,567.9 M63.1,565.9L65.0,565.9 M63.1,560.0L63.1,565.9 M61.6,563.0L63.1,563.0 M61.6,539.4L61.6,563.0 M56.5,551.2L61.6,551.2 M60.8,571.8L65.8,571.8 M60.8,575.7L65.8,575.7 M60.8,571.8L60.8,575.7 M56.5,573.8L60.8,573.8 M56.5,551.2L56.5,573.8 M21.5,562.7L56.5,562.7 M64.8,579.7L65.8,579.7 M64.8,583.6L65.8,583.6 M64.8,579.7L64.8,583.6 M63.0,581.6L64.8,581.6 M65.4,587.5L65.8,587.5 M65.4,591.5L65.8,591.5 M65.4,587.5L65.4,591.5 M64.2,589.5L65.4,589.5 M65.4,595.4L65.8,595.4 M65.4,599.3L65.8,599.3 M65.4,595.4L65.4,599.3 M64.2,597.4L65.4,597.4 M64.2,589.5L64.2,597.4 M63.0,593.4L64.2,593.4 M63.0,581.6L63.0,593.4 M59.9,587.5L63.0,587.5 M63.8,603.3L65.8,603.3 M63.8,607.2L65.8,607.2 M63.8,603.3L63.8,607.2 M62.6,605.2L63.8,605.2 M64.1,611.1L65.8,611.1 M65.3,615.1L65.8,615.1 M65.3,619.0L65.8,619.0 M65.3,615.1L65.3,619.0 M64.1,617.0L65.3,617.0 M64.1,611.1L64.1,617.0 M62.6,614.1L64.1,614.1 M62.6,605.2L62.6,614.1 M59.9,609.7L62.6,609.7 M59.9,587.5L59.9,609.7 M53.7,598.6L59.9,598.6 M60.4,622.9L65.8,622.9 M63.6,626.9L65.8,626.9 M64.8,630.8L65.8,630.8 M64.8,634.7L65.8,634.7 M64.8,630.8L64.8,634.7 M63.6,632.8L64.8,632.8 M63.6,626.9L63.6,632.8 M61.6,629.8L63.6,629.8 M62.8,638.7L65.8,638.7 M64.0,642.6L65.8,642.6 M64.0,646.5L65.8,646.5 M64.0,642.6L64.0,646.5 M62.8,644.6L64.0,644.6 M62.8,638.7L62.8,644.6 M61.6,641.6L62.8,641.6 M61.6,629.8L61.6,641.6 M60.4,635.7L61.6,635.7 M60.4,622.9L60.4,635.7 M53.7,629.3L60.4,629.3 M53.7,598.6L53.7,629.3 M21.5,613.3L53.7,613.3 M21.5,562.7L21.5,613.3 M1.5,588.0L21.5,588.0 M1.5,314.0L1.5,588.0" fill="none" stroke="#1a1a1a" stroke-width="1.05" />
<text x="128.2" y="672.2" text-anchor="middle" font-family="Liberation Sans, Arial, sans-serif" font-weight="bold" font-size="20" fill="#000">With ERT 2</text>
<text x="253.1" y="672.2" text-anchor="middle" font-family="Liberation Sans, Arial, sans-serif" font-weight="bold" font-size="20" fill="#000">With ERT 1</text>
<text x="378.0" y="672.2" text-anchor="middle" font-family="Liberation Sans, Arial, sans-serif" font-weight="bold" font-size="20" fill="#000">With ERT 3</text>
<text x="502.8" y="672.2" text-anchor="middle" font-family="Liberation Sans, Arial, sans-serif" font-weight="bold" font-size="20" fill="#000">Without 3</text>
<text x="627.7" y="672.2" text-anchor="middle" font-family="Liberation Sans, Arial, sans-serif" font-weight="bold" font-size="20" fill="#000">Without 1</text>
<text x="752.6" y="672.2" text-anchor="middle" font-family="Liberation Sans, Arial, sans-serif" font-weight="bold" font-size="20" fill="#000">Without 2</text>
<text transform="translate(59.3 32.4) scale(0.81 1)" x="0" y="0" font-family="DejaVu Sans, Liberation Sans, sans-serif" font-weight="bold" font-size="44" fill="#000">a</text>
<text x="976" y="33.0" font-family="Liberation Sans, Arial, sans-serif" font-weight="bold" font-size="45" fill="#000">b</text>
<g shape-rendering="auto">
<line x1="997.40" y1="69.9" x2="997.40" y2="618.6" stroke="#EBEBEB" stroke-width="0.8"/>
<line x1="1227.80" y1="69.9" x2="1227.80" y2="618.6" stroke="#EBEBEB" stroke-width="0.8"/>
<line x1="1458.20" y1="69.9" x2="1458.20" y2="618.6" stroke="#EBEBEB" stroke-width="0.8"/>
<line x1="970.3" y1="617.50" x2="1643.6" y2="617.50" stroke="#EBEBEB" stroke-width="0.8"/>
<line x1="970.3" y1="502.30" x2="1643.6" y2="502.30" stroke="#EBEBEB" stroke-width="0.8"/>
<line x1="970.3" y1="387.10" x2="1643.6" y2="387.10" stroke="#EBEBEB" stroke-width="0.8"/>
<line x1="970.3" y1="271.90" x2="1643.6" y2="271.90" stroke="#EBEBEB" stroke-width="0.8"/>
<line x1="970.3" y1="156.70" x2="1643.6" y2="156.70" stroke="#EBEBEB" stroke-width="0.8"/>
<line x1="1112.60" y1="69.9" x2="1112.60" y2="618.6" stroke="#E6E6E6" stroke-width="1.2"/>
<line x1="1343.00" y1="69.9" x2="1343.00" y2="618.6" stroke="#E6E6E6" stroke-width="1.2"/>
<line x1="1573.40" y1="69.9" x2="1573.40" y2="618.6" stroke="#E6E6E6" stroke-width="1.2"/>
<line x1="970.3" y1="559.90" x2="1643.6" y2="559.90" stroke="#E6E6E6" stroke-width="1.2"/>
<line x1="970.3" y1="444.70" x2="1643.6" y2="444.70" stroke="#E6E6E6" stroke-width="1.2"/>
<line x1="970.3" y1="329.50" x2="1643.6" y2="329.50" stroke="#E6E6E6" stroke-width="1.2"/>
<line x1="970.3" y1="214.30" x2="1643.6" y2="214.30" stroke="#E6E6E6" stroke-width="1.2"/>
<line x1="970.3" y1="99.10" x2="1643.6" y2="99.10" stroke="#E6E6E6" stroke-width="1.2"/>
<ellipse cx="1188.1" cy="268.4" rx="222.9" ry="68.7" transform="rotate(-29.25 1188.1 268.4)" fill="none" stroke="#C8009A" stroke-width="2.2"/>
<ellipse cx="1467.5" cy="405.6" rx="226.5" ry="71.8" transform="rotate(-50.47 1467.5 405.6)" fill="none" stroke="#0000CC" stroke-width="2.2"/>
<circle cx="1349.5" cy="181.3" r="5.4" fill="#000"/>
<text x="1349.5" y="172.6" text-anchor="middle" font-family="Liberation Sans, Arial, sans-serif" font-size="12" fill="#000">with1</text>
<circle cx="1023.2" cy="364.6" r="5.4" fill="#000"/>
<text x="1023.2" y="355.9" text-anchor="middle" font-family="Liberation Sans, Arial, sans-serif" font-size="12" fill="#000">with2</text>
<circle cx="1208.6" cy="249.9" r="5.4" fill="#000"/>
<text x="1208.6" y="241.2" text-anchor="middle" font-family="Liberation Sans, Arial, sans-serif" font-size="12" fill="#000">with3</text>
<circle cx="1532.0" cy="408.4" r="5.4" fill="#000"/>
<text x="1532.0" y="399.7" text-anchor="middle" font-family="Liberation Sans, Arial, sans-serif" font-size="12" fill="#000">without1</text>
<circle cx="1353.5" cy="508.0" r="5.4" fill="#000"/>
<text x="1353.5" y="499.3" text-anchor="middle" font-family="Liberation Sans, Arial, sans-serif" font-size="12" fill="#000">without2</text>
<circle cx="1590.9" cy="267.4" r="5.4" fill="#000"/>
<text x="1590.9" y="258.7" text-anchor="middle" font-family="Liberation Sans, Arial, sans-serif" font-size="12" fill="#000">without3</text>
<rect x="970.3" y="69.9" width="673.3" height="548.7" fill="none" stroke="#707070" stroke-width="1.3"/>
<path d="M963.3,559.90L970.3,559.90M963.3,444.70L970.3,444.70M963.3,329.50L970.3,329.50M963.3,214.30L970.3,214.30M963.3,99.10L970.3,99.10M1112.60,618.6L1112.60,625.2M1343.00,618.6L1343.00,625.2M1573.40,618.6L1573.40,625.2" stroke="#4D4D4D" stroke-width="1.2"/>
<text x="958.1" y="567.8" text-anchor="end" font-family="Liberation Sans, Arial, sans-serif" font-size="22" fill="#4D4D4D">−10</text>
<text x="958.1" y="452.6" text-anchor="end" font-family="Liberation Sans, Arial, sans-serif" font-size="22" fill="#4D4D4D">−5</text>
<text x="958.1" y="337.4" text-anchor="end" font-family="Liberation Sans, Arial, sans-serif" font-size="22" fill="#4D4D4D">0</text>
<text x="958.1" y="222.2" text-anchor="end" font-family="Liberation Sans, Arial, sans-serif" font-size="22" fill="#4D4D4D">5</text>
<text x="958.1" y="107.0" text-anchor="end" font-family="Liberation Sans, Arial, sans-serif" font-size="22" fill="#4D4D4D">10</text>
<text x="1112.60" y="646.7" text-anchor="middle" font-family="Liberation Sans, Arial, sans-serif" font-size="22" fill="#4D4D4D">−10</text>
<text x="1343.00" y="646.7" text-anchor="middle" font-family="Liberation Sans, Arial, sans-serif" font-size="22" fill="#4D4D4D">0</text>
<text x="1573.40" y="646.7" text-anchor="middle" font-family="Liberation Sans, Arial, sans-serif" font-size="22" fill="#4D4D4D">10</text>
<text x="1307.9" y="679.4" text-anchor="middle" font-family="Liberation Sans, Arial, sans-serif" font-size="27" fill="#000">PC1 (56.5%)</text>
<text transform="translate(905.5 344.0) rotate(-90)" x="0" y="0" text-anchor="middle" font-family="Liberation Sans, Arial, sans-serif" font-size="27" fill="#000">PC2 (18.6%)</text>
</g>
</svg>
</body></html>
